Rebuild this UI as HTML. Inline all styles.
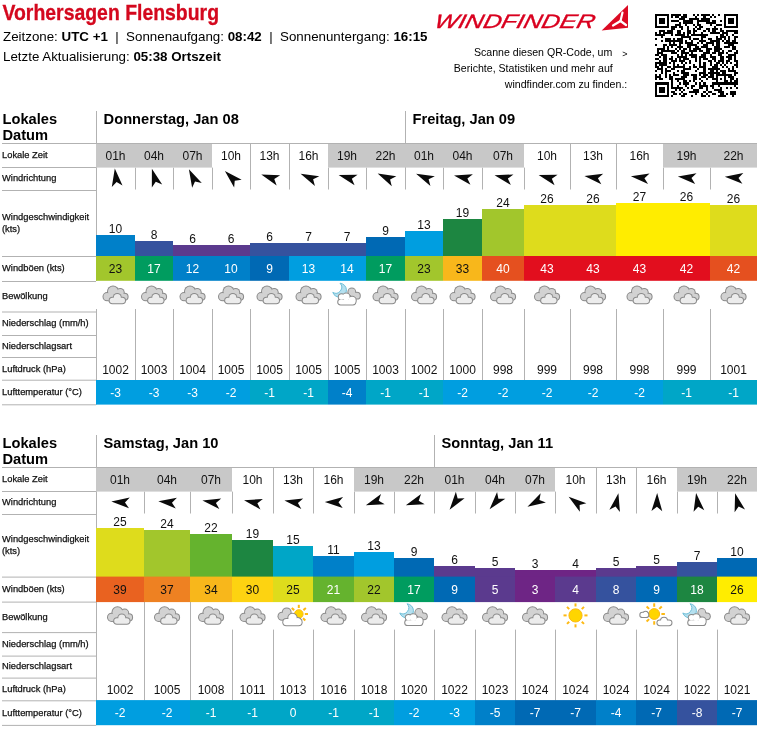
<!DOCTYPE html>
<html lang="de"><head><meta charset="utf-8"><title>Vorhersagen Flensburg</title>
<style>html,body{margin:0;padding:0;background:#fff}svg{display:block}text{white-space:pre}</style></head>
<body>
<svg width="758" height="730" viewBox="0 0 758 730" font-family='"Liberation Sans", Arial, sans-serif'>
<rect width="758" height="730" fill="#fff"/>
<text x="2.5" y="19.7" font-size="21.8" font-weight="bold" fill="#d4081e" stroke="#d4081e" stroke-width="0.3" textLength="216.5" lengthAdjust="spacingAndGlyphs">Vorhersagen Flensburg</text>
<text x="3" y="41" font-size="13.33" fill="#000">Zeitzone: <tspan font-weight="bold">UTC +1</tspan>  |  Sonnenaufgang: <tspan font-weight="bold">08:42</tspan>  |  Sonnenuntergang: <tspan font-weight="bold">16:15</tspan></text>
<text x="3" y="60.7" font-size="13.33" fill="#000">Letzte Aktualisierung: <tspan font-weight="bold">05:38 Ortszeit</tspan></text>
<text transform="translate(433.5,27.7) skewX(-14)" x="0" y="0" font-size="19.5" font-style="italic" fill="#d9001f" stroke="#d9001f" stroke-width="0.35" textLength="160" lengthAdjust="spacingAndGlyphs">WINDFINDER</text>
<path d="M628,5 L628,27.7 L601.7,30.5 Z" fill="#dc0a23"/>
<g fill="none" stroke="#fff" stroke-width="2.2" stroke-linecap="round"><path d="M620.5,21 L622.5,12.5"/><path d="M620.5,21 L626,25"/><path d="M620.5,21 L613,25.5"/></g>
<text x="612.3" y="55.8" font-size="10.6" text-anchor="end" font-weight="normal" fill="#000">Scanne diesen QR-Code, um</text>
<text x="622.3" y="56.6" font-size="9" text-anchor="start" font-weight="normal" fill="#000">&gt;</text>
<text x="612.8" y="71.7" font-size="10.6" text-anchor="end" font-weight="normal" fill="#000">Berichte, Statistiken und mehr auf</text>
<text x="627.3" y="88" font-size="10.6" text-anchor="end" font-weight="normal" fill="#000">windfinder.com zu finden.:</text>
<path d="M655,13.8h14.14v2.02h-14.14zM671.16,13.8h10.1v2.02h-10.1zM683.28,13.8h4.04v2.02h-4.04zM693.38,13.8h2.02v2.02h-2.02zM697.42,13.8h2.02v2.02h-2.02zM701.46,13.8h8.08v2.02h-8.08zM711.56,13.8h2.02v2.02h-2.02zM717.62,13.8h2.02v2.02h-2.02zM723.68,13.8h14.14v2.02h-14.14zM655,15.82h2.02v2.02h-2.02zM667.12,15.82h2.02v2.02h-2.02zM671.16,15.82h2.02v2.02h-2.02zM675.2,15.82h4.04v2.02h-4.04zM681.26,15.82h6.06v2.02h-6.06zM695.4,15.82h2.02v2.02h-2.02zM703.48,15.82h2.02v2.02h-2.02zM709.54,15.82h2.02v2.02h-2.02zM713.58,15.82h2.02v2.02h-2.02zM723.68,15.82h2.02v2.02h-2.02zM735.8,15.82h2.02v2.02h-2.02zM655,17.84h2.02v2.02h-2.02zM659.04,17.84h6.06v2.02h-6.06zM667.12,17.84h2.02v2.02h-2.02zM679.24,17.84h6.06v2.02h-6.06zM689.34,17.84h10.1v2.02h-10.1zM701.46,17.84h8.08v2.02h-8.08zM723.68,17.84h2.02v2.02h-2.02zM727.72,17.84h6.06v2.02h-6.06zM735.8,17.84h2.02v2.02h-2.02zM655,19.86h2.02v2.02h-2.02zM659.04,19.86h6.06v2.02h-6.06zM667.12,19.86h2.02v2.02h-2.02zM671.16,19.86h8.08v2.02h-8.08zM683.28,19.86h10.1v2.02h-10.1zM697.42,19.86h12.12v2.02h-12.12zM711.56,19.86h4.04v2.02h-4.04zM719.64,19.86h2.02v2.02h-2.02zM723.68,19.86h2.02v2.02h-2.02zM727.72,19.86h6.06v2.02h-6.06zM735.8,19.86h2.02v2.02h-2.02zM655,21.88h2.02v2.02h-2.02zM659.04,21.88h6.06v2.02h-6.06zM667.12,21.88h2.02v2.02h-2.02zM679.24,21.88h2.02v2.02h-2.02zM683.28,21.88h10.1v2.02h-10.1zM697.42,21.88h2.02v2.02h-2.02zM705.5,21.88h10.1v2.02h-10.1zM723.68,21.88h2.02v2.02h-2.02zM727.72,21.88h6.06v2.02h-6.06zM735.8,21.88h2.02v2.02h-2.02zM655,23.9h2.02v2.02h-2.02zM667.12,23.9h2.02v2.02h-2.02zM675.2,23.9h6.06v2.02h-6.06zM685.3,23.9h2.02v2.02h-2.02zM693.38,23.9h2.02v2.02h-2.02zM697.42,23.9h4.04v2.02h-4.04zM709.54,23.9h2.02v2.02h-2.02zM715.6,23.9h6.06v2.02h-6.06zM723.68,23.9h2.02v2.02h-2.02zM735.8,23.9h2.02v2.02h-2.02zM655,25.92h14.14v2.02h-14.14zM671.16,25.92h6.06v2.02h-6.06zM679.24,25.92h4.04v2.02h-4.04zM687.32,25.92h2.02v2.02h-2.02zM695.4,25.92h2.02v2.02h-2.02zM699.44,25.92h4.04v2.02h-4.04zM713.58,25.92h2.02v2.02h-2.02zM723.68,25.92h14.14v2.02h-14.14zM671.16,27.94h4.04v2.02h-4.04zM681.26,27.94h2.02v2.02h-2.02zM687.32,27.94h2.02v2.02h-2.02zM693.38,27.94h2.02v2.02h-2.02zM697.42,27.94h4.04v2.02h-4.04zM705.5,27.94h4.04v2.02h-4.04zM711.56,27.94h6.06v2.02h-6.06zM719.64,27.94h2.02v2.02h-2.02zM659.04,29.96h6.06v2.02h-6.06zM667.12,29.96h6.06v2.02h-6.06zM677.22,29.96h4.04v2.02h-4.04zM687.32,29.96h4.04v2.02h-4.04zM693.38,29.96h4.04v2.02h-4.04zM703.48,29.96h2.02v2.02h-2.02zM707.52,29.96h2.02v2.02h-2.02zM711.56,29.96h4.04v2.02h-4.04zM719.64,29.96h4.04v2.02h-4.04zM725.7,29.96h12.12v2.02h-12.12zM655,31.98h2.02v2.02h-2.02zM659.04,31.98h2.02v2.02h-2.02zM663.08,31.98h10.1v2.02h-10.1zM677.22,31.98h4.04v2.02h-4.04zM683.28,31.98h2.02v2.02h-2.02zM687.32,31.98h4.04v2.02h-4.04zM693.38,31.98h2.02v2.02h-2.02zM701.46,31.98h2.02v2.02h-2.02zM709.54,31.98h10.1v2.02h-10.1zM721.66,31.98h6.06v2.02h-6.06zM733.78,31.98h4.04v2.02h-4.04zM655,34h10.1v2.02h-10.1zM671.16,34h2.02v2.02h-2.02zM675.2,34h10.1v2.02h-10.1zM687.32,34h2.02v2.02h-2.02zM691.36,34h16.16v2.02h-16.16zM719.64,34h4.04v2.02h-4.04zM725.7,34h2.02v2.02h-2.02zM731.76,34h2.02v2.02h-2.02zM661.06,36.02h2.02v2.02h-2.02zM681.26,36.02h10.1v2.02h-10.1zM701.46,36.02h4.04v2.02h-4.04zM715.6,36.02h2.02v2.02h-2.02zM719.64,36.02h6.06v2.02h-6.06zM727.72,36.02h2.02v2.02h-2.02zM733.78,36.02h4.04v2.02h-4.04zM655,38.04h2.02v2.02h-2.02zM665.1,38.04h6.06v2.02h-6.06zM673.18,38.04h2.02v2.02h-2.02zM677.22,38.04h6.06v2.02h-6.06zM689.34,38.04h2.02v2.02h-2.02zM693.38,38.04h6.06v2.02h-6.06zM701.46,38.04h2.02v2.02h-2.02zM707.52,38.04h4.04v2.02h-4.04zM715.6,38.04h6.06v2.02h-6.06zM723.68,38.04h2.02v2.02h-2.02zM727.72,38.04h2.02v2.02h-2.02zM733.78,38.04h2.02v2.02h-2.02zM661.06,40.06h2.02v2.02h-2.02zM665.1,40.06h18.18v2.02h-18.18zM685.3,40.06h2.02v2.02h-2.02zM691.36,40.06h2.02v2.02h-2.02zM699.44,40.06h6.06v2.02h-6.06zM709.54,40.06h10.1v2.02h-10.1zM721.66,40.06h2.02v2.02h-2.02zM725.7,40.06h4.04v2.02h-4.04zM731.76,40.06h4.04v2.02h-4.04zM669.14,42.08h2.02v2.02h-2.02zM673.18,42.08h2.02v2.02h-2.02zM679.24,42.08h4.04v2.02h-4.04zM685.3,42.08h8.08v2.02h-8.08zM697.42,42.08h2.02v2.02h-2.02zM701.46,42.08h2.02v2.02h-2.02zM705.5,42.08h8.08v2.02h-8.08zM715.6,42.08h4.04v2.02h-4.04zM723.68,42.08h14.14v2.02h-14.14zM655,44.1h2.02v2.02h-2.02zM663.08,44.1h4.04v2.02h-4.04zM669.14,44.1h8.08v2.02h-8.08zM679.24,44.1h2.02v2.02h-2.02zM687.32,44.1h10.1v2.02h-10.1zM703.48,44.1h4.04v2.02h-4.04zM711.56,44.1h2.02v2.02h-2.02zM715.6,44.1h4.04v2.02h-4.04zM727.72,44.1h6.06v2.02h-6.06zM663.08,46.12h2.02v2.02h-2.02zM667.12,46.12h2.02v2.02h-2.02zM671.16,46.12h2.02v2.02h-2.02zM677.22,46.12h6.06v2.02h-6.06zM687.32,46.12h4.04v2.02h-4.04zM695.4,46.12h4.04v2.02h-4.04zM701.46,46.12h6.06v2.02h-6.06zM713.58,46.12h6.06v2.02h-6.06zM723.68,46.12h6.06v2.02h-6.06zM731.76,46.12h4.04v2.02h-4.04zM657.02,48.14h8.08v2.02h-8.08zM667.12,48.14h2.02v2.02h-2.02zM675.2,48.14h2.02v2.02h-2.02zM679.24,48.14h2.02v2.02h-2.02zM683.28,48.14h4.04v2.02h-4.04zM689.34,48.14h2.02v2.02h-2.02zM693.38,48.14h8.08v2.02h-8.08zM705.5,48.14h6.06v2.02h-6.06zM713.58,48.14h8.08v2.02h-8.08zM731.76,48.14h4.04v2.02h-4.04zM657.02,50.16h2.02v2.02h-2.02zM661.06,50.16h14.14v2.02h-14.14zM677.22,50.16h2.02v2.02h-2.02zM681.26,50.16h4.04v2.02h-4.04zM689.34,50.16h8.08v2.02h-8.08zM699.44,50.16h4.04v2.02h-4.04zM705.5,50.16h4.04v2.02h-4.04zM713.58,50.16h6.06v2.02h-6.06zM721.66,50.16h2.02v2.02h-2.02zM727.72,50.16h4.04v2.02h-4.04zM735.8,50.16h2.02v2.02h-2.02zM657.02,52.18h6.06v2.02h-6.06zM671.16,52.18h6.06v2.02h-6.06zM681.26,52.18h8.08v2.02h-8.08zM691.36,52.18h2.02v2.02h-2.02zM703.48,52.18h6.06v2.02h-6.06zM711.56,52.18h4.04v2.02h-4.04zM717.62,52.18h6.06v2.02h-6.06zM725.7,52.18h2.02v2.02h-2.02zM733.78,52.18h4.04v2.02h-4.04zM655,54.2h4.04v2.02h-4.04zM661.06,54.2h6.06v2.02h-6.06zM677.22,54.2h2.02v2.02h-2.02zM681.26,54.2h2.02v2.02h-2.02zM685.3,54.2h2.02v2.02h-2.02zM689.34,54.2h8.08v2.02h-8.08zM701.46,54.2h4.04v2.02h-4.04zM709.54,54.2h2.02v2.02h-2.02zM717.62,54.2h4.04v2.02h-4.04zM727.72,54.2h8.08v2.02h-8.08zM659.04,56.22h2.02v2.02h-2.02zM663.08,56.22h4.04v2.02h-4.04zM671.16,56.22h2.02v2.02h-2.02zM677.22,56.22h10.1v2.02h-10.1zM691.36,56.22h6.06v2.02h-6.06zM699.44,56.22h6.06v2.02h-6.06zM709.54,56.22h6.06v2.02h-6.06zM719.64,56.22h4.04v2.02h-4.04zM725.7,56.22h6.06v2.02h-6.06zM733.78,56.22h2.02v2.02h-2.02zM655,58.24h4.04v2.02h-4.04zM663.08,58.24h4.04v2.02h-4.04zM669.14,58.24h4.04v2.02h-4.04zM675.2,58.24h2.02v2.02h-2.02zM679.24,58.24h2.02v2.02h-2.02zM683.28,58.24h6.06v2.02h-6.06zM695.4,58.24h2.02v2.02h-2.02zM699.44,58.24h2.02v2.02h-2.02zM703.48,58.24h4.04v2.02h-4.04zM711.56,58.24h4.04v2.02h-4.04zM719.64,58.24h4.04v2.02h-4.04zM727.72,58.24h4.04v2.02h-4.04zM733.78,58.24h2.02v2.02h-2.02zM659.04,60.26h2.02v2.02h-2.02zM663.08,60.26h4.04v2.02h-4.04zM671.16,60.26h6.06v2.02h-6.06zM679.24,60.26h6.06v2.02h-6.06zM689.34,60.26h2.02v2.02h-2.02zM695.4,60.26h2.02v2.02h-2.02zM699.44,60.26h2.02v2.02h-2.02zM707.52,60.26h4.04v2.02h-4.04zM713.58,60.26h2.02v2.02h-2.02zM717.62,60.26h6.06v2.02h-6.06zM725.7,60.26h4.04v2.02h-4.04zM733.78,60.26h4.04v2.02h-4.04zM655,62.28h12.12v2.02h-12.12zM669.14,62.28h2.02v2.02h-2.02zM673.18,62.28h2.02v2.02h-2.02zM681.26,62.28h2.02v2.02h-2.02zM685.3,62.28h2.02v2.02h-2.02zM689.34,62.28h2.02v2.02h-2.02zM699.44,62.28h2.02v2.02h-2.02zM703.48,62.28h2.02v2.02h-2.02zM709.54,62.28h2.02v2.02h-2.02zM715.6,62.28h4.04v2.02h-4.04zM721.66,62.28h2.02v2.02h-2.02zM725.7,62.28h2.02v2.02h-2.02zM729.74,62.28h2.02v2.02h-2.02zM735.8,62.28h2.02v2.02h-2.02zM655,64.3h2.02v2.02h-2.02zM659.04,64.3h8.08v2.02h-8.08zM673.18,64.3h2.02v2.02h-2.02zM677.22,64.3h2.02v2.02h-2.02zM683.28,64.3h2.02v2.02h-2.02zM693.38,64.3h2.02v2.02h-2.02zM699.44,64.3h2.02v2.02h-2.02zM703.48,64.3h2.02v2.02h-2.02zM709.54,64.3h2.02v2.02h-2.02zM713.58,64.3h4.04v2.02h-4.04zM719.64,64.3h2.02v2.02h-2.02zM723.68,64.3h2.02v2.02h-2.02zM733.78,64.3h4.04v2.02h-4.04zM655,66.32h4.04v2.02h-4.04zM661.06,66.32h2.02v2.02h-2.02zM667.12,66.32h4.04v2.02h-4.04zM673.18,66.32h12.12v2.02h-12.12zM689.34,66.32h2.02v2.02h-2.02zM693.38,66.32h4.04v2.02h-4.04zM699.44,66.32h6.06v2.02h-6.06zM711.56,66.32h6.06v2.02h-6.06zM721.66,66.32h2.02v2.02h-2.02zM725.7,66.32h2.02v2.02h-2.02zM731.76,66.32h2.02v2.02h-2.02zM735.8,66.32h2.02v2.02h-2.02zM657.02,68.34h6.06v2.02h-6.06zM665.1,68.34h2.02v2.02h-2.02zM671.16,68.34h4.04v2.02h-4.04zM683.28,68.34h8.08v2.02h-8.08zM697.42,68.34h2.02v2.02h-2.02zM703.48,68.34h2.02v2.02h-2.02zM707.52,68.34h12.12v2.02h-12.12zM727.72,68.34h2.02v2.02h-2.02zM731.76,68.34h2.02v2.02h-2.02zM655,70.36h2.02v2.02h-2.02zM661.06,70.36h2.02v2.02h-2.02zM665.1,70.36h6.06v2.02h-6.06zM677.22,70.36h2.02v2.02h-2.02zM681.26,70.36h4.04v2.02h-4.04zM695.4,70.36h2.02v2.02h-2.02zM703.48,70.36h2.02v2.02h-2.02zM709.54,70.36h4.04v2.02h-4.04zM715.6,70.36h2.02v2.02h-2.02zM719.64,70.36h6.06v2.02h-6.06zM727.72,70.36h8.08v2.02h-8.08zM661.06,72.38h2.02v2.02h-2.02zM665.1,72.38h2.02v2.02h-2.02zM673.18,72.38h2.02v2.02h-2.02zM681.26,72.38h8.08v2.02h-8.08zM699.44,72.38h6.06v2.02h-6.06zM707.52,72.38h12.12v2.02h-12.12zM721.66,72.38h4.04v2.02h-4.04zM733.78,72.38h4.04v2.02h-4.04zM655,74.4h2.02v2.02h-2.02zM659.04,74.4h2.02v2.02h-2.02zM665.1,74.4h2.02v2.02h-2.02zM669.14,74.4h2.02v2.02h-2.02zM673.18,74.4h6.06v2.02h-6.06zM683.28,74.4h6.06v2.02h-6.06zM691.36,74.4h6.06v2.02h-6.06zM699.44,74.4h2.02v2.02h-2.02zM703.48,74.4h4.04v2.02h-4.04zM709.54,74.4h4.04v2.02h-4.04zM715.6,74.4h16.16v2.02h-16.16zM733.78,74.4h2.02v2.02h-2.02zM655,76.42h6.06v2.02h-6.06zM665.1,76.42h2.02v2.02h-2.02zM669.14,76.42h4.04v2.02h-4.04zM681.26,76.42h6.06v2.02h-6.06zM693.38,76.42h4.04v2.02h-4.04zM701.46,76.42h4.04v2.02h-4.04zM707.52,76.42h6.06v2.02h-6.06zM715.6,76.42h2.02v2.02h-2.02zM723.68,76.42h2.02v2.02h-2.02zM727.72,76.42h6.06v2.02h-6.06zM655,78.44h2.02v2.02h-2.02zM659.04,78.44h4.04v2.02h-4.04zM669.14,78.44h4.04v2.02h-4.04zM675.2,78.44h10.1v2.02h-10.1zM693.38,78.44h4.04v2.02h-4.04zM699.44,78.44h2.02v2.02h-2.02zM705.5,78.44h2.02v2.02h-2.02zM711.56,78.44h6.06v2.02h-6.06zM719.64,78.44h2.02v2.02h-2.02zM723.68,78.44h2.02v2.02h-2.02zM729.74,78.44h4.04v2.02h-4.04zM735.8,78.44h2.02v2.02h-2.02zM671.16,80.46h2.02v2.02h-2.02zM677.22,80.46h2.02v2.02h-2.02zM683.28,80.46h4.04v2.02h-4.04zM689.34,80.46h2.02v2.02h-2.02zM693.38,80.46h2.02v2.02h-2.02zM701.46,80.46h2.02v2.02h-2.02zM715.6,80.46h2.02v2.02h-2.02zM723.68,80.46h4.04v2.02h-4.04zM729.74,80.46h2.02v2.02h-2.02zM733.78,80.46h4.04v2.02h-4.04zM655,82.48h14.14v2.02h-14.14zM671.16,82.48h2.02v2.02h-2.02zM679.24,82.48h2.02v2.02h-2.02zM683.28,82.48h6.06v2.02h-6.06zM695.4,82.48h2.02v2.02h-2.02zM699.44,82.48h2.02v2.02h-2.02zM703.48,82.48h2.02v2.02h-2.02zM711.56,82.48h26.26v2.02h-26.26zM655,84.5h2.02v2.02h-2.02zM667.12,84.5h2.02v2.02h-2.02zM671.16,84.5h2.02v2.02h-2.02zM677.22,84.5h2.02v2.02h-2.02zM685.3,84.5h2.02v2.02h-2.02zM691.36,84.5h4.04v2.02h-4.04zM699.44,84.5h8.08v2.02h-8.08zM709.54,84.5h4.04v2.02h-4.04zM717.62,84.5h2.02v2.02h-2.02zM733.78,84.5h2.02v2.02h-2.02zM655,86.52h2.02v2.02h-2.02zM659.04,86.52h6.06v2.02h-6.06zM667.12,86.52h2.02v2.02h-2.02zM671.16,86.52h12.12v2.02h-12.12zM687.32,86.52h2.02v2.02h-2.02zM691.36,86.52h2.02v2.02h-2.02zM699.44,86.52h4.04v2.02h-4.04zM705.5,86.52h2.02v2.02h-2.02zM711.56,86.52h2.02v2.02h-2.02zM719.64,86.52h2.02v2.02h-2.02zM725.7,86.52h2.02v2.02h-2.02zM729.74,86.52h2.02v2.02h-2.02zM735.8,86.52h2.02v2.02h-2.02zM655,88.54h2.02v2.02h-2.02zM659.04,88.54h6.06v2.02h-6.06zM667.12,88.54h2.02v2.02h-2.02zM675.2,88.54h2.02v2.02h-2.02zM679.24,88.54h2.02v2.02h-2.02zM683.28,88.54h2.02v2.02h-2.02zM693.38,88.54h6.06v2.02h-6.06zM705.5,88.54h2.02v2.02h-2.02zM713.58,88.54h8.08v2.02h-8.08zM655,90.56h2.02v2.02h-2.02zM659.04,90.56h6.06v2.02h-6.06zM667.12,90.56h2.02v2.02h-2.02zM671.16,90.56h4.04v2.02h-4.04zM681.26,90.56h2.02v2.02h-2.02zM689.34,90.56h10.1v2.02h-10.1zM703.48,90.56h2.02v2.02h-2.02zM707.52,90.56h4.04v2.02h-4.04zM717.62,90.56h6.06v2.02h-6.06zM729.74,90.56h6.06v2.02h-6.06zM655,92.58h2.02v2.02h-2.02zM667.12,92.58h2.02v2.02h-2.02zM673.18,92.58h4.04v2.02h-4.04zM679.24,92.58h2.02v2.02h-2.02zM683.28,92.58h4.04v2.02h-4.04zM695.4,92.58h2.02v2.02h-2.02zM701.46,92.58h2.02v2.02h-2.02zM705.5,92.58h2.02v2.02h-2.02zM711.56,92.58h4.04v2.02h-4.04zM719.64,92.58h4.04v2.02h-4.04zM725.7,92.58h2.02v2.02h-2.02zM729.74,92.58h6.06v2.02h-6.06zM655,94.6h14.14v2.02h-14.14zM671.16,94.6h2.02v2.02h-2.02zM681.26,94.6h4.04v2.02h-4.04zM691.36,94.6h2.02v2.02h-2.02zM701.46,94.6h4.04v2.02h-4.04zM707.52,94.6h2.02v2.02h-2.02zM717.62,94.6h8.08v2.02h-8.08zM731.76,94.6h2.02v2.02h-2.02z" fill="#000" shape-rendering="crispEdges"/>
<rect x="2" y="143" width="755" height="1" fill="#b2b2b2"/>
<rect x="2" y="167" width="94" height="1" fill="#b2b2b2"/>
<rect x="2" y="190" width="94" height="1" fill="#b2b2b2"/>
<rect x="2" y="256" width="94" height="1" fill="#b2b2b2"/>
<rect x="2" y="281" width="94" height="1" fill="#b2b2b2"/>
<rect x="2" y="311.5" width="94" height="1" fill="#b2b2b2"/>
<rect x="2" y="335" width="94" height="1" fill="#b2b2b2"/>
<rect x="2" y="357" width="94" height="1" fill="#b2b2b2"/>
<rect x="2" y="379.7" width="94" height="1" fill="#b2b2b2"/>
<rect x="2" y="404.3" width="94" height="1" fill="#b2b2b2"/>
<rect x="96" y="111" width="1" height="170" fill="#b2b2b2"/>
<rect x="96" y="309" width="1" height="95.5" fill="#b2b2b2"/>
<rect x="405" y="111" width="1" height="78.5" fill="#b2b2b2"/>
<rect x="135" y="167.6" width="1" height="21.9" fill="#b2b2b2"/>
<rect x="173" y="167.6" width="1" height="21.9" fill="#b2b2b2"/>
<rect x="212" y="167.6" width="1" height="21.9" fill="#b2b2b2"/>
<rect x="250" y="144" width="1" height="45.5" fill="#b2b2b2"/>
<rect x="289" y="144" width="1" height="45.5" fill="#b2b2b2"/>
<rect x="328" y="167.6" width="1" height="21.9" fill="#b2b2b2"/>
<rect x="366" y="167.6" width="1" height="21.9" fill="#b2b2b2"/>
<rect x="443" y="167.6" width="1" height="21.9" fill="#b2b2b2"/>
<rect x="482" y="167.6" width="1" height="21.9" fill="#b2b2b2"/>
<rect x="524" y="167.6" width="1" height="21.9" fill="#b2b2b2"/>
<rect x="570" y="144" width="1" height="45.5" fill="#b2b2b2"/>
<rect x="616" y="144" width="1" height="45.5" fill="#b2b2b2"/>
<rect x="663" y="167.6" width="1" height="21.9" fill="#b2b2b2"/>
<rect x="710" y="167.6" width="1" height="21.9" fill="#b2b2b2"/>
<rect x="135" y="309" width="1" height="71" fill="#b2b2b2"/>
<rect x="173" y="309" width="1" height="71" fill="#b2b2b2"/>
<rect x="212" y="309" width="1" height="71" fill="#b2b2b2"/>
<rect x="250" y="309" width="1" height="71" fill="#b2b2b2"/>
<rect x="289" y="309" width="1" height="71" fill="#b2b2b2"/>
<rect x="328" y="309" width="1" height="71" fill="#b2b2b2"/>
<rect x="366" y="309" width="1" height="71" fill="#b2b2b2"/>
<rect x="405" y="309" width="1" height="71" fill="#b2b2b2"/>
<rect x="443" y="309" width="1" height="71" fill="#b2b2b2"/>
<rect x="482" y="309" width="1" height="71" fill="#b2b2b2"/>
<rect x="524" y="309" width="1" height="71" fill="#b2b2b2"/>
<rect x="570" y="309" width="1" height="71" fill="#b2b2b2"/>
<rect x="616" y="309" width="1" height="71" fill="#b2b2b2"/>
<rect x="663" y="309" width="1" height="71" fill="#b2b2b2"/>
<rect x="710" y="309" width="1" height="71" fill="#b2b2b2"/>
<rect x="96" y="144" width="116" height="23.6" fill="#c8c8c8"/>
<rect x="328" y="144" width="196" height="23.6" fill="#c8c8c8"/>
<rect x="663" y="144" width="94" height="23.6" fill="#c8c8c8"/>
<rect x="96" y="235" width="39" height="21.5" fill="#0080c9"/>
<rect x="135" y="241" width="38" height="15.5" fill="#35529e"/>
<rect x="173" y="245" width="77" height="11.5" fill="#5b3a8e"/>
<rect x="250" y="243" width="116" height="13.5" fill="#35529e"/>
<rect x="366" y="237" width="39" height="19.5" fill="#0069b4"/>
<rect x="405" y="231" width="38" height="25.5" fill="#009ee0"/>
<rect x="443" y="219" width="39" height="37.5" fill="#1d8641"/>
<rect x="482" y="209" width="42" height="47.5" fill="#a2c62c"/>
<rect x="524" y="205" width="92" height="51.5" fill="#dedc1c"/>
<rect x="616" y="203" width="94" height="53.5" fill="#ffed00"/>
<rect x="710" y="205" width="47" height="51.5" fill="#dedc1c"/>
<rect x="96" y="256" width="39" height="24.8" fill="#a2c62c"/>
<rect x="135" y="256" width="38" height="24.8" fill="#009c5f"/>
<rect x="173" y="256" width="77" height="24.8" fill="#0080c9"/>
<rect x="250" y="256" width="39" height="24.8" fill="#0069b4"/>
<rect x="289" y="256" width="77" height="24.8" fill="#009ee0"/>
<rect x="366" y="256" width="39" height="24.8" fill="#009c5f"/>
<rect x="405" y="256" width="38" height="24.8" fill="#a2c62c"/>
<rect x="443" y="256" width="39" height="24.8" fill="#f8b71b"/>
<rect x="482" y="256" width="42" height="24.8" fill="#e5501f"/>
<rect x="524" y="256" width="186" height="24.8" fill="#e20e1e"/>
<rect x="710" y="256" width="47" height="24.8" fill="#e5501f"/>
<rect x="96" y="380" width="154" height="24.6" fill="#009ee0"/>
<rect x="250" y="380" width="78" height="24.6" fill="#00a6c7"/>
<rect x="328" y="380" width="38" height="24.6" fill="#0080c9"/>
<rect x="366" y="380" width="77" height="24.6" fill="#00a6c7"/>
<rect x="443" y="380" width="220" height="24.6" fill="#009ee0"/>
<rect x="663" y="380" width="94" height="24.6" fill="#00a6c7"/>
<text x="2.5" y="124" font-size="14.67" text-anchor="start" font-weight="bold" fill="#000">Lokales</text>
<text x="2.5" y="140" font-size="14.67" text-anchor="start" font-weight="bold" fill="#000">Datum</text>
<text x="103.6" y="124" font-size="14.67" text-anchor="start" font-weight="bold" fill="#000">Donnerstag, Jan 08</text>
<text x="412.5" y="124" font-size="14.67" text-anchor="start" font-weight="bold" fill="#000">Freitag, Jan 09</text>
<text x="2" y="158" font-size="9.33" text-anchor="start" font-weight="normal" fill="#111" stroke="#111" stroke-width="0.25">Lokale Zeit</text>
<text x="2" y="180.5" font-size="9.33" text-anchor="start" font-weight="normal" fill="#111" stroke="#111" stroke-width="0.25">Windrichtung</text>
<text x="2" y="220" font-size="9.33" text-anchor="start" font-weight="normal" fill="#111" stroke="#111" stroke-width="0.25">Windgeschwindigkeit</text>
<text x="2" y="231.5" font-size="9.33" text-anchor="start" font-weight="normal" fill="#111" stroke="#111" stroke-width="0.25">(kts)</text>
<text x="2" y="271" font-size="9.33" text-anchor="start" font-weight="normal" fill="#111" stroke="#111" stroke-width="0.25">Windböen (kts)</text>
<text x="2" y="299" font-size="9.33" text-anchor="start" font-weight="normal" fill="#111" stroke="#111" stroke-width="0.25">Bewölkung</text>
<text x="2" y="326" font-size="9.33" text-anchor="start" font-weight="normal" fill="#111" stroke="#111" stroke-width="0.25">Niederschlag (mm/h)</text>
<text x="2" y="348.5" font-size="9.33" text-anchor="start" font-weight="normal" fill="#111" stroke="#111" stroke-width="0.25">Niederschlagsart</text>
<text x="2" y="371.5" font-size="9.33" text-anchor="start" font-weight="normal" fill="#111" stroke="#111" stroke-width="0.25">Luftdruck (hPa)</text>
<text x="2" y="395" font-size="9.33" text-anchor="start" font-weight="normal" fill="#111" stroke="#111" stroke-width="0.25">Lufttemperatur (°C)</text>
<text x="115.5" y="160" font-size="12" text-anchor="middle" font-weight="normal" fill="#111">01h</text>
<path d="M0,-9.2 L5.4,8.9 L0,4.5 L-5.4,8.9 Z" fill="#0a0a0a" transform="translate(116,177.5) rotate(-7.5)"/>
<text x="115.5" y="233.1" font-size="12" text-anchor="middle" font-weight="normal" fill="#111">10</text>
<text x="115.5" y="272.7" font-size="12" text-anchor="middle" font-weight="normal" fill="#111">23</text>
<g transform="translate(100.00,282)"><circle cx="7.1" cy="14.7" r="4.6" fill="#8a8a8a"/><circle cx="13" cy="9.6" r="6" fill="#8a8a8a"/><circle cx="20.2" cy="10.5" r="4.5" fill="#8a8a8a"/><circle cx="24.5" cy="14.8" r="4.1" fill="#8a8a8a"/><circle cx="11" cy="16" r="4.3" fill="#8a8a8a"/><circle cx="20" cy="16" r="4.3" fill="#8a8a8a"/><circle cx="7.1" cy="14.7" r="3.6" fill="#d2d2d2"/><circle cx="13" cy="9.6" r="5" fill="#d2d2d2"/><circle cx="20.2" cy="10.5" r="3.5" fill="#d2d2d2"/><circle cx="24.5" cy="14.8" r="3.1" fill="#d2d2d2"/><circle cx="11" cy="16" r="3.3" fill="#d2d2d2"/><circle cx="20" cy="16" r="3.3" fill="#d2d2d2"/><circle cx="17.3" cy="15.4" r="4.5" fill="#8a8a8a"/><rect x="8.7" y="14.7" width="17.3" height="7.5" rx="3.75" fill="#8a8a8a"/><circle cx="17.3" cy="15.4" r="3.5" fill="#ececec"/><rect x="9.7" y="15.7" width="15.3" height="5.5" rx="2.75" fill="#ececec"/></g>
<text x="115.5" y="373.5" font-size="12" text-anchor="middle" font-weight="normal" fill="#111">1002</text>
<text x="115.5" y="396.5" font-size="12" text-anchor="middle" font-weight="normal" fill="#fff">-3</text>
<text x="154" y="160" font-size="12" text-anchor="middle" font-weight="normal" fill="#111">04h</text>
<path d="M0,-9.2 L5.4,8.9 L0,4.5 L-5.4,8.9 Z" fill="#0a0a0a" transform="translate(154.5,177.5) rotate(-16.5)"/>
<text x="154" y="239.1" font-size="12" text-anchor="middle" font-weight="normal" fill="#111">8</text>
<text x="154" y="272.7" font-size="12" text-anchor="middle" font-weight="normal" fill="#fff">17</text>
<g transform="translate(138.50,282)"><circle cx="7.1" cy="14.7" r="4.6" fill="#8a8a8a"/><circle cx="13" cy="9.6" r="6" fill="#8a8a8a"/><circle cx="20.2" cy="10.5" r="4.5" fill="#8a8a8a"/><circle cx="24.5" cy="14.8" r="4.1" fill="#8a8a8a"/><circle cx="11" cy="16" r="4.3" fill="#8a8a8a"/><circle cx="20" cy="16" r="4.3" fill="#8a8a8a"/><circle cx="7.1" cy="14.7" r="3.6" fill="#d2d2d2"/><circle cx="13" cy="9.6" r="5" fill="#d2d2d2"/><circle cx="20.2" cy="10.5" r="3.5" fill="#d2d2d2"/><circle cx="24.5" cy="14.8" r="3.1" fill="#d2d2d2"/><circle cx="11" cy="16" r="3.3" fill="#d2d2d2"/><circle cx="20" cy="16" r="3.3" fill="#d2d2d2"/><circle cx="17.3" cy="15.4" r="4.5" fill="#8a8a8a"/><rect x="8.7" y="14.7" width="17.3" height="7.5" rx="3.75" fill="#8a8a8a"/><circle cx="17.3" cy="15.4" r="3.5" fill="#ececec"/><rect x="9.7" y="15.7" width="15.3" height="5.5" rx="2.75" fill="#ececec"/></g>
<text x="154" y="373.5" font-size="12" text-anchor="middle" font-weight="normal" fill="#111">1003</text>
<text x="154" y="396.5" font-size="12" text-anchor="middle" font-weight="normal" fill="#fff">-3</text>
<text x="192.5" y="160" font-size="12" text-anchor="middle" font-weight="normal" fill="#111">07h</text>
<path d="M0,-9.2 L5.4,8.9 L0,4.5 L-5.4,8.9 Z" fill="#0a0a0a" transform="translate(193,177.5) rotate(-26.5)"/>
<text x="192.5" y="243.1" font-size="12" text-anchor="middle" font-weight="normal" fill="#111">6</text>
<text x="192.5" y="272.7" font-size="12" text-anchor="middle" font-weight="normal" fill="#fff">12</text>
<g transform="translate(177.00,282)"><circle cx="7.1" cy="14.7" r="4.6" fill="#8a8a8a"/><circle cx="13" cy="9.6" r="6" fill="#8a8a8a"/><circle cx="20.2" cy="10.5" r="4.5" fill="#8a8a8a"/><circle cx="24.5" cy="14.8" r="4.1" fill="#8a8a8a"/><circle cx="11" cy="16" r="4.3" fill="#8a8a8a"/><circle cx="20" cy="16" r="4.3" fill="#8a8a8a"/><circle cx="7.1" cy="14.7" r="3.6" fill="#d2d2d2"/><circle cx="13" cy="9.6" r="5" fill="#d2d2d2"/><circle cx="20.2" cy="10.5" r="3.5" fill="#d2d2d2"/><circle cx="24.5" cy="14.8" r="3.1" fill="#d2d2d2"/><circle cx="11" cy="16" r="3.3" fill="#d2d2d2"/><circle cx="20" cy="16" r="3.3" fill="#d2d2d2"/><circle cx="17.3" cy="15.4" r="4.5" fill="#8a8a8a"/><rect x="8.7" y="14.7" width="17.3" height="7.5" rx="3.75" fill="#8a8a8a"/><circle cx="17.3" cy="15.4" r="3.5" fill="#ececec"/><rect x="9.7" y="15.7" width="15.3" height="5.5" rx="2.75" fill="#ececec"/></g>
<text x="192.5" y="373.5" font-size="12" text-anchor="middle" font-weight="normal" fill="#111">1004</text>
<text x="192.5" y="396.5" font-size="12" text-anchor="middle" font-weight="normal" fill="#fff">-3</text>
<text x="231" y="160" font-size="12" text-anchor="middle" font-weight="normal" fill="#111">10h</text>
<path d="M0,-9.2 L5.4,8.9 L0,4.5 L-5.4,8.9 Z" fill="#0a0a0a" transform="translate(231.5,177.5) rotate(-46)"/>
<text x="231" y="243.1" font-size="12" text-anchor="middle" font-weight="normal" fill="#111">6</text>
<text x="231" y="272.7" font-size="12" text-anchor="middle" font-weight="normal" fill="#fff">10</text>
<g transform="translate(215.50,282)"><circle cx="7.1" cy="14.7" r="4.6" fill="#8a8a8a"/><circle cx="13" cy="9.6" r="6" fill="#8a8a8a"/><circle cx="20.2" cy="10.5" r="4.5" fill="#8a8a8a"/><circle cx="24.5" cy="14.8" r="4.1" fill="#8a8a8a"/><circle cx="11" cy="16" r="4.3" fill="#8a8a8a"/><circle cx="20" cy="16" r="4.3" fill="#8a8a8a"/><circle cx="7.1" cy="14.7" r="3.6" fill="#d2d2d2"/><circle cx="13" cy="9.6" r="5" fill="#d2d2d2"/><circle cx="20.2" cy="10.5" r="3.5" fill="#d2d2d2"/><circle cx="24.5" cy="14.8" r="3.1" fill="#d2d2d2"/><circle cx="11" cy="16" r="3.3" fill="#d2d2d2"/><circle cx="20" cy="16" r="3.3" fill="#d2d2d2"/><circle cx="17.3" cy="15.4" r="4.5" fill="#8a8a8a"/><rect x="8.7" y="14.7" width="17.3" height="7.5" rx="3.75" fill="#8a8a8a"/><circle cx="17.3" cy="15.4" r="3.5" fill="#ececec"/><rect x="9.7" y="15.7" width="15.3" height="5.5" rx="2.75" fill="#ececec"/></g>
<text x="231" y="373.5" font-size="12" text-anchor="middle" font-weight="normal" fill="#111">1005</text>
<text x="231" y="396.5" font-size="12" text-anchor="middle" font-weight="normal" fill="#fff">-2</text>
<text x="269.5" y="160" font-size="12" text-anchor="middle" font-weight="normal" fill="#111">13h</text>
<path d="M0,-9.2 L5.4,8.9 L0,4.5 L-5.4,8.9 Z" fill="#0a0a0a" transform="translate(270,177.5) rotate(-71)"/>
<text x="269.5" y="241.1" font-size="12" text-anchor="middle" font-weight="normal" fill="#111">6</text>
<text x="269.5" y="272.7" font-size="12" text-anchor="middle" font-weight="normal" fill="#fff">9</text>
<g transform="translate(254.00,282)"><circle cx="7.1" cy="14.7" r="4.6" fill="#8a8a8a"/><circle cx="13" cy="9.6" r="6" fill="#8a8a8a"/><circle cx="20.2" cy="10.5" r="4.5" fill="#8a8a8a"/><circle cx="24.5" cy="14.8" r="4.1" fill="#8a8a8a"/><circle cx="11" cy="16" r="4.3" fill="#8a8a8a"/><circle cx="20" cy="16" r="4.3" fill="#8a8a8a"/><circle cx="7.1" cy="14.7" r="3.6" fill="#d2d2d2"/><circle cx="13" cy="9.6" r="5" fill="#d2d2d2"/><circle cx="20.2" cy="10.5" r="3.5" fill="#d2d2d2"/><circle cx="24.5" cy="14.8" r="3.1" fill="#d2d2d2"/><circle cx="11" cy="16" r="3.3" fill="#d2d2d2"/><circle cx="20" cy="16" r="3.3" fill="#d2d2d2"/><circle cx="17.3" cy="15.4" r="4.5" fill="#8a8a8a"/><rect x="8.7" y="14.7" width="17.3" height="7.5" rx="3.75" fill="#8a8a8a"/><circle cx="17.3" cy="15.4" r="3.5" fill="#ececec"/><rect x="9.7" y="15.7" width="15.3" height="5.5" rx="2.75" fill="#ececec"/></g>
<text x="269.5" y="373.5" font-size="12" text-anchor="middle" font-weight="normal" fill="#111">1005</text>
<text x="269.5" y="396.5" font-size="12" text-anchor="middle" font-weight="normal" fill="#fff">-1</text>
<text x="308.5" y="160" font-size="12" text-anchor="middle" font-weight="normal" fill="#111">16h</text>
<path d="M0,-9.2 L5.4,8.9 L0,4.5 L-5.4,8.9 Z" fill="#0a0a0a" transform="translate(309,177.5) rotate(-66)"/>
<text x="308.5" y="241.1" font-size="12" text-anchor="middle" font-weight="normal" fill="#111">7</text>
<text x="308.5" y="272.7" font-size="12" text-anchor="middle" font-weight="normal" fill="#fff">13</text>
<g transform="translate(293.00,282)"><circle cx="7.1" cy="14.7" r="4.6" fill="#8a8a8a"/><circle cx="13" cy="9.6" r="6" fill="#8a8a8a"/><circle cx="20.2" cy="10.5" r="4.5" fill="#8a8a8a"/><circle cx="24.5" cy="14.8" r="4.1" fill="#8a8a8a"/><circle cx="11" cy="16" r="4.3" fill="#8a8a8a"/><circle cx="20" cy="16" r="4.3" fill="#8a8a8a"/><circle cx="7.1" cy="14.7" r="3.6" fill="#d2d2d2"/><circle cx="13" cy="9.6" r="5" fill="#d2d2d2"/><circle cx="20.2" cy="10.5" r="3.5" fill="#d2d2d2"/><circle cx="24.5" cy="14.8" r="3.1" fill="#d2d2d2"/><circle cx="11" cy="16" r="3.3" fill="#d2d2d2"/><circle cx="20" cy="16" r="3.3" fill="#d2d2d2"/><circle cx="17.3" cy="15.4" r="4.5" fill="#8a8a8a"/><rect x="8.7" y="14.7" width="17.3" height="7.5" rx="3.75" fill="#8a8a8a"/><circle cx="17.3" cy="15.4" r="3.5" fill="#ececec"/><rect x="9.7" y="15.7" width="15.3" height="5.5" rx="2.75" fill="#ececec"/></g>
<text x="308.5" y="373.5" font-size="12" text-anchor="middle" font-weight="normal" fill="#111">1005</text>
<text x="308.5" y="396.5" font-size="12" text-anchor="middle" font-weight="normal" fill="#fff">-1</text>
<text x="347" y="160" font-size="12" text-anchor="middle" font-weight="normal" fill="#111">19h</text>
<path d="M0,-9.2 L5.4,8.9 L0,4.5 L-5.4,8.9 Z" fill="#0a0a0a" transform="translate(347.5,177.5) rotate(-74)"/>
<text x="347" y="241.1" font-size="12" text-anchor="middle" font-weight="normal" fill="#111">7</text>
<text x="347" y="272.7" font-size="12" text-anchor="middle" font-weight="normal" fill="#fff">14</text>
<g transform="translate(330.30,280)"><path d="M9.7,3.2 A7,7 0 1 1 2.5,12.4 A5.9,5.9 0 0 0 9.7,3.2 Z" fill="#b5e0ef" stroke="#6fbfd8" stroke-width="1" stroke-linejoin="round"/><circle cx="21.5" cy="11.9" r="4.4" fill="#8a8a8a"/><circle cx="26.6" cy="15.7" r="3.9" fill="#8a8a8a"/><circle cx="23.5" cy="15" r="3.8" fill="#8a8a8a"/><circle cx="21.5" cy="11.9" r="3.4" fill="#d2d2d2"/><circle cx="26.6" cy="15.7" r="2.9" fill="#d2d2d2"/><circle cx="23.5" cy="15" r="2.8" fill="#d2d2d2"/><circle cx="11.2" cy="17" r="3.7" fill="#8a8a8a"/><circle cx="15.9" cy="17" r="4.4" fill="#8a8a8a"/><circle cx="21.8" cy="20.4" r="4.6" fill="#8a8a8a"/><rect x="6.9" y="18.7" width="19.1" height="6.7" rx="3.35" fill="#8a8a8a"/><circle cx="11.2" cy="17" r="2.7" fill="#ffffff"/><circle cx="15.9" cy="17" r="3.4" fill="#ffffff"/><circle cx="21.8" cy="20.4" r="3.6" fill="#ffffff"/><rect x="7.9" y="19.7" width="17.1" height="4.7" rx="2.35" fill="#ffffff"/></g>
<text x="347" y="373.5" font-size="12" text-anchor="middle" font-weight="normal" fill="#111">1005</text>
<text x="347" y="396.5" font-size="12" text-anchor="middle" font-weight="normal" fill="#fff">-4</text>
<text x="385.5" y="160" font-size="12" text-anchor="middle" font-weight="normal" fill="#111">22h</text>
<path d="M0,-9.2 L5.4,8.9 L0,4.5 L-5.4,8.9 Z" fill="#0a0a0a" transform="translate(386,177.5) rotate(-65)"/>
<text x="385.5" y="235.1" font-size="12" text-anchor="middle" font-weight="normal" fill="#111">9</text>
<text x="385.5" y="272.7" font-size="12" text-anchor="middle" font-weight="normal" fill="#fff">17</text>
<g transform="translate(370.00,282)"><circle cx="7.1" cy="14.7" r="4.6" fill="#8a8a8a"/><circle cx="13" cy="9.6" r="6" fill="#8a8a8a"/><circle cx="20.2" cy="10.5" r="4.5" fill="#8a8a8a"/><circle cx="24.5" cy="14.8" r="4.1" fill="#8a8a8a"/><circle cx="11" cy="16" r="4.3" fill="#8a8a8a"/><circle cx="20" cy="16" r="4.3" fill="#8a8a8a"/><circle cx="7.1" cy="14.7" r="3.6" fill="#d2d2d2"/><circle cx="13" cy="9.6" r="5" fill="#d2d2d2"/><circle cx="20.2" cy="10.5" r="3.5" fill="#d2d2d2"/><circle cx="24.5" cy="14.8" r="3.1" fill="#d2d2d2"/><circle cx="11" cy="16" r="3.3" fill="#d2d2d2"/><circle cx="20" cy="16" r="3.3" fill="#d2d2d2"/><circle cx="17.3" cy="15.4" r="4.5" fill="#8a8a8a"/><rect x="8.7" y="14.7" width="17.3" height="7.5" rx="3.75" fill="#8a8a8a"/><circle cx="17.3" cy="15.4" r="3.5" fill="#ececec"/><rect x="9.7" y="15.7" width="15.3" height="5.5" rx="2.75" fill="#ececec"/></g>
<text x="385.5" y="373.5" font-size="12" text-anchor="middle" font-weight="normal" fill="#111">1003</text>
<text x="385.5" y="396.5" font-size="12" text-anchor="middle" font-weight="normal" fill="#fff">-1</text>
<text x="424" y="160" font-size="12" text-anchor="middle" font-weight="normal" fill="#111">01h</text>
<path d="M0,-9.2 L5.4,8.9 L0,4.5 L-5.4,8.9 Z" fill="#0a0a0a" transform="translate(424.5,177.5) rotate(-66)"/>
<text x="424" y="229.1" font-size="12" text-anchor="middle" font-weight="normal" fill="#111">13</text>
<text x="424" y="272.7" font-size="12" text-anchor="middle" font-weight="normal" fill="#111">23</text>
<g transform="translate(408.50,282)"><circle cx="7.1" cy="14.7" r="4.6" fill="#8a8a8a"/><circle cx="13" cy="9.6" r="6" fill="#8a8a8a"/><circle cx="20.2" cy="10.5" r="4.5" fill="#8a8a8a"/><circle cx="24.5" cy="14.8" r="4.1" fill="#8a8a8a"/><circle cx="11" cy="16" r="4.3" fill="#8a8a8a"/><circle cx="20" cy="16" r="4.3" fill="#8a8a8a"/><circle cx="7.1" cy="14.7" r="3.6" fill="#d2d2d2"/><circle cx="13" cy="9.6" r="5" fill="#d2d2d2"/><circle cx="20.2" cy="10.5" r="3.5" fill="#d2d2d2"/><circle cx="24.5" cy="14.8" r="3.1" fill="#d2d2d2"/><circle cx="11" cy="16" r="3.3" fill="#d2d2d2"/><circle cx="20" cy="16" r="3.3" fill="#d2d2d2"/><circle cx="17.3" cy="15.4" r="4.5" fill="#8a8a8a"/><rect x="8.7" y="14.7" width="17.3" height="7.5" rx="3.75" fill="#8a8a8a"/><circle cx="17.3" cy="15.4" r="3.5" fill="#ececec"/><rect x="9.7" y="15.7" width="15.3" height="5.5" rx="2.75" fill="#ececec"/></g>
<text x="424" y="373.5" font-size="12" text-anchor="middle" font-weight="normal" fill="#111">1002</text>
<text x="424" y="396.5" font-size="12" text-anchor="middle" font-weight="normal" fill="#fff">-1</text>
<text x="462.5" y="160" font-size="12" text-anchor="middle" font-weight="normal" fill="#111">04h</text>
<path d="M0,-9.2 L5.4,8.9 L0,4.5 L-5.4,8.9 Z" fill="#0a0a0a" transform="translate(463,177.5) rotate(-77)"/>
<text x="462.5" y="217.1" font-size="12" text-anchor="middle" font-weight="normal" fill="#111">19</text>
<text x="462.5" y="272.7" font-size="12" text-anchor="middle" font-weight="normal" fill="#111">33</text>
<g transform="translate(447.00,282)"><circle cx="7.1" cy="14.7" r="4.6" fill="#8a8a8a"/><circle cx="13" cy="9.6" r="6" fill="#8a8a8a"/><circle cx="20.2" cy="10.5" r="4.5" fill="#8a8a8a"/><circle cx="24.5" cy="14.8" r="4.1" fill="#8a8a8a"/><circle cx="11" cy="16" r="4.3" fill="#8a8a8a"/><circle cx="20" cy="16" r="4.3" fill="#8a8a8a"/><circle cx="7.1" cy="14.7" r="3.6" fill="#d2d2d2"/><circle cx="13" cy="9.6" r="5" fill="#d2d2d2"/><circle cx="20.2" cy="10.5" r="3.5" fill="#d2d2d2"/><circle cx="24.5" cy="14.8" r="3.1" fill="#d2d2d2"/><circle cx="11" cy="16" r="3.3" fill="#d2d2d2"/><circle cx="20" cy="16" r="3.3" fill="#d2d2d2"/><circle cx="17.3" cy="15.4" r="4.5" fill="#8a8a8a"/><rect x="8.7" y="14.7" width="17.3" height="7.5" rx="3.75" fill="#8a8a8a"/><circle cx="17.3" cy="15.4" r="3.5" fill="#ececec"/><rect x="9.7" y="15.7" width="15.3" height="5.5" rx="2.75" fill="#ececec"/></g>
<text x="462.5" y="373.5" font-size="12" text-anchor="middle" font-weight="normal" fill="#111">1000</text>
<text x="462.5" y="396.5" font-size="12" text-anchor="middle" font-weight="normal" fill="#fff">-2</text>
<text x="503" y="160" font-size="12" text-anchor="middle" font-weight="normal" fill="#111">07h</text>
<path d="M0,-9.2 L5.4,8.9 L0,4.5 L-5.4,8.9 Z" fill="#0a0a0a" transform="translate(503.5,177.5) rotate(-76)"/>
<text x="503" y="207.1" font-size="12" text-anchor="middle" font-weight="normal" fill="#111">24</text>
<text x="503" y="272.7" font-size="12" text-anchor="middle" font-weight="normal" fill="#fff">40</text>
<g transform="translate(487.50,282)"><circle cx="7.1" cy="14.7" r="4.6" fill="#8a8a8a"/><circle cx="13" cy="9.6" r="6" fill="#8a8a8a"/><circle cx="20.2" cy="10.5" r="4.5" fill="#8a8a8a"/><circle cx="24.5" cy="14.8" r="4.1" fill="#8a8a8a"/><circle cx="11" cy="16" r="4.3" fill="#8a8a8a"/><circle cx="20" cy="16" r="4.3" fill="#8a8a8a"/><circle cx="7.1" cy="14.7" r="3.6" fill="#d2d2d2"/><circle cx="13" cy="9.6" r="5" fill="#d2d2d2"/><circle cx="20.2" cy="10.5" r="3.5" fill="#d2d2d2"/><circle cx="24.5" cy="14.8" r="3.1" fill="#d2d2d2"/><circle cx="11" cy="16" r="3.3" fill="#d2d2d2"/><circle cx="20" cy="16" r="3.3" fill="#d2d2d2"/><circle cx="17.3" cy="15.4" r="4.5" fill="#8a8a8a"/><rect x="8.7" y="14.7" width="17.3" height="7.5" rx="3.75" fill="#8a8a8a"/><circle cx="17.3" cy="15.4" r="3.5" fill="#ececec"/><rect x="9.7" y="15.7" width="15.3" height="5.5" rx="2.75" fill="#ececec"/></g>
<text x="503" y="373.5" font-size="12" text-anchor="middle" font-weight="normal" fill="#111">998</text>
<text x="503" y="396.5" font-size="12" text-anchor="middle" font-weight="normal" fill="#fff">-2</text>
<text x="547" y="160" font-size="12" text-anchor="middle" font-weight="normal" fill="#111">10h</text>
<path d="M0,-9.2 L5.4,8.9 L0,4.5 L-5.4,8.9 Z" fill="#0a0a0a" transform="translate(547.5,177.5) rotate(-74)"/>
<text x="547" y="203.1" font-size="12" text-anchor="middle" font-weight="normal" fill="#111">26</text>
<text x="547" y="272.7" font-size="12" text-anchor="middle" font-weight="normal" fill="#fff">43</text>
<g transform="translate(531.50,282)"><circle cx="7.1" cy="14.7" r="4.6" fill="#8a8a8a"/><circle cx="13" cy="9.6" r="6" fill="#8a8a8a"/><circle cx="20.2" cy="10.5" r="4.5" fill="#8a8a8a"/><circle cx="24.5" cy="14.8" r="4.1" fill="#8a8a8a"/><circle cx="11" cy="16" r="4.3" fill="#8a8a8a"/><circle cx="20" cy="16" r="4.3" fill="#8a8a8a"/><circle cx="7.1" cy="14.7" r="3.6" fill="#d2d2d2"/><circle cx="13" cy="9.6" r="5" fill="#d2d2d2"/><circle cx="20.2" cy="10.5" r="3.5" fill="#d2d2d2"/><circle cx="24.5" cy="14.8" r="3.1" fill="#d2d2d2"/><circle cx="11" cy="16" r="3.3" fill="#d2d2d2"/><circle cx="20" cy="16" r="3.3" fill="#d2d2d2"/><circle cx="17.3" cy="15.4" r="4.5" fill="#8a8a8a"/><rect x="8.7" y="14.7" width="17.3" height="7.5" rx="3.75" fill="#8a8a8a"/><circle cx="17.3" cy="15.4" r="3.5" fill="#ececec"/><rect x="9.7" y="15.7" width="15.3" height="5.5" rx="2.75" fill="#ececec"/></g>
<text x="547" y="373.5" font-size="12" text-anchor="middle" font-weight="normal" fill="#111">999</text>
<text x="547" y="396.5" font-size="12" text-anchor="middle" font-weight="normal" fill="#fff">-2</text>
<text x="593" y="160" font-size="12" text-anchor="middle" font-weight="normal" fill="#111">13h</text>
<path d="M0,-9.2 L5.4,8.9 L0,4.5 L-5.4,8.9 Z" fill="#0a0a0a" transform="translate(593.5,177.5) rotate(-80)"/>
<text x="593" y="203.1" font-size="12" text-anchor="middle" font-weight="normal" fill="#111">26</text>
<text x="593" y="272.7" font-size="12" text-anchor="middle" font-weight="normal" fill="#fff">43</text>
<g transform="translate(577.50,282)"><circle cx="7.1" cy="14.7" r="4.6" fill="#8a8a8a"/><circle cx="13" cy="9.6" r="6" fill="#8a8a8a"/><circle cx="20.2" cy="10.5" r="4.5" fill="#8a8a8a"/><circle cx="24.5" cy="14.8" r="4.1" fill="#8a8a8a"/><circle cx="11" cy="16" r="4.3" fill="#8a8a8a"/><circle cx="20" cy="16" r="4.3" fill="#8a8a8a"/><circle cx="7.1" cy="14.7" r="3.6" fill="#d2d2d2"/><circle cx="13" cy="9.6" r="5" fill="#d2d2d2"/><circle cx="20.2" cy="10.5" r="3.5" fill="#d2d2d2"/><circle cx="24.5" cy="14.8" r="3.1" fill="#d2d2d2"/><circle cx="11" cy="16" r="3.3" fill="#d2d2d2"/><circle cx="20" cy="16" r="3.3" fill="#d2d2d2"/><circle cx="17.3" cy="15.4" r="4.5" fill="#8a8a8a"/><rect x="8.7" y="14.7" width="17.3" height="7.5" rx="3.75" fill="#8a8a8a"/><circle cx="17.3" cy="15.4" r="3.5" fill="#ececec"/><rect x="9.7" y="15.7" width="15.3" height="5.5" rx="2.75" fill="#ececec"/></g>
<text x="593" y="373.5" font-size="12" text-anchor="middle" font-weight="normal" fill="#111">998</text>
<text x="593" y="396.5" font-size="12" text-anchor="middle" font-weight="normal" fill="#fff">-2</text>
<text x="639.5" y="160" font-size="12" text-anchor="middle" font-weight="normal" fill="#111">16h</text>
<path d="M0,-9.2 L5.4,8.9 L0,4.5 L-5.4,8.9 Z" fill="#0a0a0a" transform="translate(640,177.5) rotate(-82)"/>
<text x="639.5" y="201.1" font-size="12" text-anchor="middle" font-weight="normal" fill="#111">27</text>
<text x="639.5" y="272.7" font-size="12" text-anchor="middle" font-weight="normal" fill="#fff">43</text>
<g transform="translate(624.00,282)"><circle cx="7.1" cy="14.7" r="4.6" fill="#8a8a8a"/><circle cx="13" cy="9.6" r="6" fill="#8a8a8a"/><circle cx="20.2" cy="10.5" r="4.5" fill="#8a8a8a"/><circle cx="24.5" cy="14.8" r="4.1" fill="#8a8a8a"/><circle cx="11" cy="16" r="4.3" fill="#8a8a8a"/><circle cx="20" cy="16" r="4.3" fill="#8a8a8a"/><circle cx="7.1" cy="14.7" r="3.6" fill="#d2d2d2"/><circle cx="13" cy="9.6" r="5" fill="#d2d2d2"/><circle cx="20.2" cy="10.5" r="3.5" fill="#d2d2d2"/><circle cx="24.5" cy="14.8" r="3.1" fill="#d2d2d2"/><circle cx="11" cy="16" r="3.3" fill="#d2d2d2"/><circle cx="20" cy="16" r="3.3" fill="#d2d2d2"/><circle cx="17.3" cy="15.4" r="4.5" fill="#8a8a8a"/><rect x="8.7" y="14.7" width="17.3" height="7.5" rx="3.75" fill="#8a8a8a"/><circle cx="17.3" cy="15.4" r="3.5" fill="#ececec"/><rect x="9.7" y="15.7" width="15.3" height="5.5" rx="2.75" fill="#ececec"/></g>
<text x="639.5" y="373.5" font-size="12" text-anchor="middle" font-weight="normal" fill="#111">998</text>
<text x="639.5" y="396.5" font-size="12" text-anchor="middle" font-weight="normal" fill="#fff">-2</text>
<text x="686.5" y="160" font-size="12" text-anchor="middle" font-weight="normal" fill="#111">19h</text>
<path d="M0,-9.2 L5.4,8.9 L0,4.5 L-5.4,8.9 Z" fill="#0a0a0a" transform="translate(687,177.5) rotate(-83)"/>
<text x="686.5" y="201.1" font-size="12" text-anchor="middle" font-weight="normal" fill="#111">26</text>
<text x="686.5" y="272.7" font-size="12" text-anchor="middle" font-weight="normal" fill="#fff">42</text>
<g transform="translate(671.00,282)"><circle cx="7.1" cy="14.7" r="4.6" fill="#8a8a8a"/><circle cx="13" cy="9.6" r="6" fill="#8a8a8a"/><circle cx="20.2" cy="10.5" r="4.5" fill="#8a8a8a"/><circle cx="24.5" cy="14.8" r="4.1" fill="#8a8a8a"/><circle cx="11" cy="16" r="4.3" fill="#8a8a8a"/><circle cx="20" cy="16" r="4.3" fill="#8a8a8a"/><circle cx="7.1" cy="14.7" r="3.6" fill="#d2d2d2"/><circle cx="13" cy="9.6" r="5" fill="#d2d2d2"/><circle cx="20.2" cy="10.5" r="3.5" fill="#d2d2d2"/><circle cx="24.5" cy="14.8" r="3.1" fill="#d2d2d2"/><circle cx="11" cy="16" r="3.3" fill="#d2d2d2"/><circle cx="20" cy="16" r="3.3" fill="#d2d2d2"/><circle cx="17.3" cy="15.4" r="4.5" fill="#8a8a8a"/><rect x="8.7" y="14.7" width="17.3" height="7.5" rx="3.75" fill="#8a8a8a"/><circle cx="17.3" cy="15.4" r="3.5" fill="#ececec"/><rect x="9.7" y="15.7" width="15.3" height="5.5" rx="2.75" fill="#ececec"/></g>
<text x="686.5" y="373.5" font-size="12" text-anchor="middle" font-weight="normal" fill="#111">999</text>
<text x="686.5" y="396.5" font-size="12" text-anchor="middle" font-weight="normal" fill="#fff">-1</text>
<text x="733.5" y="160" font-size="12" text-anchor="middle" font-weight="normal" fill="#111">22h</text>
<path d="M0,-9.2 L5.4,8.9 L0,4.5 L-5.4,8.9 Z" fill="#0a0a0a" transform="translate(734,177.5) rotate(-85)"/>
<text x="733.5" y="203.1" font-size="12" text-anchor="middle" font-weight="normal" fill="#111">26</text>
<text x="733.5" y="272.7" font-size="12" text-anchor="middle" font-weight="normal" fill="#fff">42</text>
<g transform="translate(718.00,282)"><circle cx="7.1" cy="14.7" r="4.6" fill="#8a8a8a"/><circle cx="13" cy="9.6" r="6" fill="#8a8a8a"/><circle cx="20.2" cy="10.5" r="4.5" fill="#8a8a8a"/><circle cx="24.5" cy="14.8" r="4.1" fill="#8a8a8a"/><circle cx="11" cy="16" r="4.3" fill="#8a8a8a"/><circle cx="20" cy="16" r="4.3" fill="#8a8a8a"/><circle cx="7.1" cy="14.7" r="3.6" fill="#d2d2d2"/><circle cx="13" cy="9.6" r="5" fill="#d2d2d2"/><circle cx="20.2" cy="10.5" r="3.5" fill="#d2d2d2"/><circle cx="24.5" cy="14.8" r="3.1" fill="#d2d2d2"/><circle cx="11" cy="16" r="3.3" fill="#d2d2d2"/><circle cx="20" cy="16" r="3.3" fill="#d2d2d2"/><circle cx="17.3" cy="15.4" r="4.5" fill="#8a8a8a"/><rect x="8.7" y="14.7" width="17.3" height="7.5" rx="3.75" fill="#8a8a8a"/><circle cx="17.3" cy="15.4" r="3.5" fill="#ececec"/><rect x="9.7" y="15.7" width="15.3" height="5.5" rx="2.75" fill="#ececec"/></g>
<text x="733.5" y="373.5" font-size="12" text-anchor="middle" font-weight="normal" fill="#111">1001</text>
<text x="733.5" y="396.5" font-size="12" text-anchor="middle" font-weight="normal" fill="#fff">-1</text>
<rect x="2" y="467" width="755" height="1" fill="#b2b2b2"/>
<rect x="2" y="491" width="94" height="1" fill="#b2b2b2"/>
<rect x="2" y="514" width="94" height="1" fill="#b2b2b2"/>
<rect x="2" y="576.6" width="94" height="1" fill="#b2b2b2"/>
<rect x="2" y="601.6" width="94" height="1" fill="#b2b2b2"/>
<rect x="2" y="632.1" width="94" height="1" fill="#b2b2b2"/>
<rect x="2" y="655.6" width="94" height="1" fill="#b2b2b2"/>
<rect x="2" y="677.6" width="94" height="1" fill="#b2b2b2"/>
<rect x="2" y="700.3" width="94" height="1" fill="#b2b2b2"/>
<rect x="2" y="724.9" width="94" height="1" fill="#b2b2b2"/>
<rect x="96" y="435" width="1" height="166.6" fill="#b2b2b2"/>
<rect x="96" y="601.6" width="1" height="123.5" fill="#b2b2b2"/>
<rect x="434" y="435" width="1" height="78.5" fill="#b2b2b2"/>
<rect x="144" y="491.6" width="1" height="21.9" fill="#b2b2b2"/>
<rect x="190" y="491.6" width="1" height="21.9" fill="#b2b2b2"/>
<rect x="232" y="491.6" width="1" height="21.9" fill="#b2b2b2"/>
<rect x="273" y="468" width="1" height="45.5" fill="#b2b2b2"/>
<rect x="313" y="468" width="1" height="45.5" fill="#b2b2b2"/>
<rect x="354" y="491.6" width="1" height="21.9" fill="#b2b2b2"/>
<rect x="394" y="491.6" width="1" height="21.9" fill="#b2b2b2"/>
<rect x="475" y="491.6" width="1" height="21.9" fill="#b2b2b2"/>
<rect x="515" y="491.6" width="1" height="21.9" fill="#b2b2b2"/>
<rect x="555" y="491.6" width="1" height="21.9" fill="#b2b2b2"/>
<rect x="596" y="468" width="1" height="45.5" fill="#b2b2b2"/>
<rect x="636" y="468" width="1" height="45.5" fill="#b2b2b2"/>
<rect x="677" y="491.6" width="1" height="21.9" fill="#b2b2b2"/>
<rect x="717" y="491.6" width="1" height="21.9" fill="#b2b2b2"/>
<rect x="144" y="601.6" width="1" height="99" fill="#b2b2b2"/>
<rect x="190" y="601.6" width="1" height="99" fill="#b2b2b2"/>
<rect x="232" y="629.6" width="1" height="71" fill="#b2b2b2"/>
<rect x="273" y="629.6" width="1" height="71" fill="#b2b2b2"/>
<rect x="313" y="629.6" width="1" height="71" fill="#b2b2b2"/>
<rect x="354" y="629.6" width="1" height="71" fill="#b2b2b2"/>
<rect x="394" y="629.6" width="1" height="71" fill="#b2b2b2"/>
<rect x="434" y="629.6" width="1" height="71" fill="#b2b2b2"/>
<rect x="475" y="629.6" width="1" height="71" fill="#b2b2b2"/>
<rect x="515" y="629.6" width="1" height="71" fill="#b2b2b2"/>
<rect x="555" y="629.6" width="1" height="71" fill="#b2b2b2"/>
<rect x="596" y="629.6" width="1" height="71" fill="#b2b2b2"/>
<rect x="636" y="629.6" width="1" height="71" fill="#b2b2b2"/>
<rect x="677" y="629.6" width="1" height="71" fill="#b2b2b2"/>
<rect x="717" y="629.6" width="1" height="71" fill="#b2b2b2"/>
<rect x="96" y="468" width="136" height="23.6" fill="#c8c8c8"/>
<rect x="354" y="468" width="201" height="23.6" fill="#c8c8c8"/>
<rect x="677" y="468" width="80" height="23.6" fill="#c8c8c8"/>
<rect x="96" y="528" width="48" height="49.1" fill="#dedc1c"/>
<rect x="144" y="530" width="46" height="47.1" fill="#a2c62c"/>
<rect x="190" y="534" width="42" height="43.1" fill="#65b32e"/>
<rect x="232" y="540" width="41" height="37.1" fill="#1d8641"/>
<rect x="273" y="546" width="40" height="31.1" fill="#00a6c7"/>
<rect x="313" y="556" width="41" height="21.1" fill="#0080c9"/>
<rect x="354" y="552" width="40" height="25.1" fill="#009ee0"/>
<rect x="394" y="558" width="40" height="19.1" fill="#0069b4"/>
<rect x="434" y="566" width="41" height="11.1" fill="#5b3a8e"/>
<rect x="475" y="568" width="40" height="9.1" fill="#5b3a8e"/>
<rect x="515" y="570" width="81" height="7.1" fill="#6e2585"/>
<rect x="596" y="568" width="40" height="9.1" fill="#5b3a8e"/>
<rect x="636" y="566" width="41" height="11.1" fill="#5b3a8e"/>
<rect x="677" y="562" width="40" height="15.1" fill="#35529e"/>
<rect x="717" y="558" width="40" height="19.1" fill="#0069b4"/>
<rect x="96" y="576.6" width="48" height="25.5" fill="#e96220"/>
<rect x="144" y="576.6" width="46" height="25.5" fill="#ee8122"/>
<rect x="190" y="576.6" width="42" height="25.5" fill="#f8b71b"/>
<rect x="232" y="576.6" width="41" height="25.5" fill="#fdd311"/>
<rect x="273" y="576.6" width="40" height="25.5" fill="#dedc1c"/>
<rect x="313" y="576.6" width="41" height="25.5" fill="#65b32e"/>
<rect x="354" y="576.6" width="40" height="25.5" fill="#a2c62c"/>
<rect x="394" y="576.6" width="40" height="25.5" fill="#009c5f"/>
<rect x="434" y="576.6" width="41" height="25.5" fill="#0069b4"/>
<rect x="475" y="576.6" width="40" height="25.5" fill="#5b3a8e"/>
<rect x="515" y="576.6" width="40" height="25.5" fill="#6e2585"/>
<rect x="555" y="576.6" width="41" height="25.5" fill="#5b3a8e"/>
<rect x="596" y="576.6" width="40" height="25.5" fill="#35529e"/>
<rect x="636" y="576.6" width="41" height="25.5" fill="#0069b4"/>
<rect x="677" y="576.6" width="40" height="25.5" fill="#1d8641"/>
<rect x="717" y="576.6" width="40" height="25.5" fill="#ffed00"/>
<rect x="96" y="700.1" width="94" height="25.1" fill="#009ee0"/>
<rect x="190" y="700.1" width="204" height="25.1" fill="#00a6c7"/>
<rect x="394" y="700.1" width="81" height="25.1" fill="#009ee0"/>
<rect x="475" y="700.1" width="40" height="25.1" fill="#0080c9"/>
<rect x="515" y="700.1" width="81" height="25.1" fill="#0069b4"/>
<rect x="596" y="700.1" width="40" height="25.1" fill="#0080c9"/>
<rect x="636" y="700.1" width="41" height="25.1" fill="#0069b4"/>
<rect x="677" y="700.1" width="40" height="25.1" fill="#35529e"/>
<rect x="717" y="700.1" width="40" height="25.1" fill="#0069b4"/>
<text x="2.5" y="448" font-size="14.67" text-anchor="start" font-weight="bold" fill="#000">Lokales</text>
<text x="2.5" y="464" font-size="14.67" text-anchor="start" font-weight="bold" fill="#000">Datum</text>
<text x="103.6" y="448" font-size="14.67" text-anchor="start" font-weight="bold" fill="#000">Samstag, Jan 10</text>
<text x="441.5" y="448" font-size="14.67" text-anchor="start" font-weight="bold" fill="#000">Sonntag, Jan 11</text>
<text x="2" y="482" font-size="9.33" text-anchor="start" font-weight="normal" fill="#111" stroke="#111" stroke-width="0.25">Lokale Zeit</text>
<text x="2" y="505.2" font-size="9.33" text-anchor="start" font-weight="normal" fill="#111" stroke="#111" stroke-width="0.25">Windrichtung</text>
<text x="2" y="542" font-size="9.33" text-anchor="start" font-weight="normal" fill="#111" stroke="#111" stroke-width="0.25">Windgeschwindigkeit</text>
<text x="2" y="553.5" font-size="9.33" text-anchor="start" font-weight="normal" fill="#111" stroke="#111" stroke-width="0.25">(kts)</text>
<text x="2" y="591.6" font-size="9.33" text-anchor="start" font-weight="normal" fill="#111" stroke="#111" stroke-width="0.25">Windböen (kts)</text>
<text x="2" y="619.6" font-size="9.33" text-anchor="start" font-weight="normal" fill="#111" stroke="#111" stroke-width="0.25">Bewölkung</text>
<text x="2" y="646.6" font-size="9.33" text-anchor="start" font-weight="normal" fill="#111" stroke="#111" stroke-width="0.25">Niederschlag (mm/h)</text>
<text x="2" y="669.1" font-size="9.33" text-anchor="start" font-weight="normal" fill="#111" stroke="#111" stroke-width="0.25">Niederschlagsart</text>
<text x="2" y="692.1" font-size="9.33" text-anchor="start" font-weight="normal" fill="#111" stroke="#111" stroke-width="0.25">Luftdruck (hPa)</text>
<text x="2" y="715.6" font-size="9.33" text-anchor="start" font-weight="normal" fill="#111" stroke="#111" stroke-width="0.25">Lufttemperatur (°C)</text>
<text x="120" y="484" font-size="12" text-anchor="middle" font-weight="normal" fill="#111">01h</text>
<path d="M0,-9.2 L5.4,8.9 L0,4.5 L-5.4,8.9 Z" fill="#0a0a0a" transform="translate(120.5,502.2) rotate(-86)"/>
<text x="120" y="526.1" font-size="12" text-anchor="middle" font-weight="normal" fill="#111">25</text>
<text x="120" y="594" font-size="12" text-anchor="middle" font-weight="normal" fill="#111">39</text>
<g transform="translate(104.50,602.6)"><circle cx="7.1" cy="14.7" r="4.6" fill="#8a8a8a"/><circle cx="13" cy="9.6" r="6" fill="#8a8a8a"/><circle cx="20.2" cy="10.5" r="4.5" fill="#8a8a8a"/><circle cx="24.5" cy="14.8" r="4.1" fill="#8a8a8a"/><circle cx="11" cy="16" r="4.3" fill="#8a8a8a"/><circle cx="20" cy="16" r="4.3" fill="#8a8a8a"/><circle cx="7.1" cy="14.7" r="3.6" fill="#d2d2d2"/><circle cx="13" cy="9.6" r="5" fill="#d2d2d2"/><circle cx="20.2" cy="10.5" r="3.5" fill="#d2d2d2"/><circle cx="24.5" cy="14.8" r="3.1" fill="#d2d2d2"/><circle cx="11" cy="16" r="3.3" fill="#d2d2d2"/><circle cx="20" cy="16" r="3.3" fill="#d2d2d2"/><circle cx="17.3" cy="15.4" r="4.5" fill="#8a8a8a"/><rect x="8.7" y="14.7" width="17.3" height="7.5" rx="3.75" fill="#8a8a8a"/><circle cx="17.3" cy="15.4" r="3.5" fill="#ececec"/><rect x="9.7" y="15.7" width="15.3" height="5.5" rx="2.75" fill="#ececec"/></g>
<text x="120" y="694.1" font-size="12" text-anchor="middle" font-weight="normal" fill="#111">1002</text>
<text x="120" y="717.1" font-size="12" text-anchor="middle" font-weight="normal" fill="#fff">-2</text>
<text x="167" y="484" font-size="12" text-anchor="middle" font-weight="normal" fill="#111">04h</text>
<path d="M0,-9.2 L5.4,8.9 L0,4.5 L-5.4,8.9 Z" fill="#0a0a0a" transform="translate(167.5,502.2) rotate(-84)"/>
<text x="167" y="528.1" font-size="12" text-anchor="middle" font-weight="normal" fill="#111">24</text>
<text x="167" y="594" font-size="12" text-anchor="middle" font-weight="normal" fill="#111">37</text>
<g transform="translate(151.50,602.6)"><circle cx="7.1" cy="14.7" r="4.6" fill="#8a8a8a"/><circle cx="13" cy="9.6" r="6" fill="#8a8a8a"/><circle cx="20.2" cy="10.5" r="4.5" fill="#8a8a8a"/><circle cx="24.5" cy="14.8" r="4.1" fill="#8a8a8a"/><circle cx="11" cy="16" r="4.3" fill="#8a8a8a"/><circle cx="20" cy="16" r="4.3" fill="#8a8a8a"/><circle cx="7.1" cy="14.7" r="3.6" fill="#d2d2d2"/><circle cx="13" cy="9.6" r="5" fill="#d2d2d2"/><circle cx="20.2" cy="10.5" r="3.5" fill="#d2d2d2"/><circle cx="24.5" cy="14.8" r="3.1" fill="#d2d2d2"/><circle cx="11" cy="16" r="3.3" fill="#d2d2d2"/><circle cx="20" cy="16" r="3.3" fill="#d2d2d2"/><circle cx="17.3" cy="15.4" r="4.5" fill="#8a8a8a"/><rect x="8.7" y="14.7" width="17.3" height="7.5" rx="3.75" fill="#8a8a8a"/><circle cx="17.3" cy="15.4" r="3.5" fill="#ececec"/><rect x="9.7" y="15.7" width="15.3" height="5.5" rx="2.75" fill="#ececec"/></g>
<text x="167" y="694.1" font-size="12" text-anchor="middle" font-weight="normal" fill="#111">1005</text>
<text x="167" y="717.1" font-size="12" text-anchor="middle" font-weight="normal" fill="#fff">-2</text>
<text x="211" y="484" font-size="12" text-anchor="middle" font-weight="normal" fill="#111">07h</text>
<path d="M0,-9.2 L5.4,8.9 L0,4.5 L-5.4,8.9 Z" fill="#0a0a0a" transform="translate(211.5,502.2) rotate(-80)"/>
<text x="211" y="532.1" font-size="12" text-anchor="middle" font-weight="normal" fill="#111">22</text>
<text x="211" y="594" font-size="12" text-anchor="middle" font-weight="normal" fill="#111">34</text>
<g transform="translate(195.50,602.6)"><circle cx="7.1" cy="14.7" r="4.6" fill="#8a8a8a"/><circle cx="13" cy="9.6" r="6" fill="#8a8a8a"/><circle cx="20.2" cy="10.5" r="4.5" fill="#8a8a8a"/><circle cx="24.5" cy="14.8" r="4.1" fill="#8a8a8a"/><circle cx="11" cy="16" r="4.3" fill="#8a8a8a"/><circle cx="20" cy="16" r="4.3" fill="#8a8a8a"/><circle cx="7.1" cy="14.7" r="3.6" fill="#d2d2d2"/><circle cx="13" cy="9.6" r="5" fill="#d2d2d2"/><circle cx="20.2" cy="10.5" r="3.5" fill="#d2d2d2"/><circle cx="24.5" cy="14.8" r="3.1" fill="#d2d2d2"/><circle cx="11" cy="16" r="3.3" fill="#d2d2d2"/><circle cx="20" cy="16" r="3.3" fill="#d2d2d2"/><circle cx="17.3" cy="15.4" r="4.5" fill="#8a8a8a"/><rect x="8.7" y="14.7" width="17.3" height="7.5" rx="3.75" fill="#8a8a8a"/><circle cx="17.3" cy="15.4" r="3.5" fill="#ececec"/><rect x="9.7" y="15.7" width="15.3" height="5.5" rx="2.75" fill="#ececec"/></g>
<text x="211" y="694.1" font-size="12" text-anchor="middle" font-weight="normal" fill="#111">1008</text>
<text x="211" y="717.1" font-size="12" text-anchor="middle" font-weight="normal" fill="#fff">-1</text>
<text x="252.5" y="484" font-size="12" text-anchor="middle" font-weight="normal" fill="#111">10h</text>
<path d="M0,-9.2 L5.4,8.9 L0,4.5 L-5.4,8.9 Z" fill="#0a0a0a" transform="translate(253,502.2) rotate(-77)"/>
<text x="252.5" y="538.1" font-size="12" text-anchor="middle" font-weight="normal" fill="#111">19</text>
<text x="252.5" y="594" font-size="12" text-anchor="middle" font-weight="normal" fill="#111">30</text>
<g transform="translate(237.00,602.6)"><circle cx="7.1" cy="14.7" r="4.6" fill="#8a8a8a"/><circle cx="13" cy="9.6" r="6" fill="#8a8a8a"/><circle cx="20.2" cy="10.5" r="4.5" fill="#8a8a8a"/><circle cx="24.5" cy="14.8" r="4.1" fill="#8a8a8a"/><circle cx="11" cy="16" r="4.3" fill="#8a8a8a"/><circle cx="20" cy="16" r="4.3" fill="#8a8a8a"/><circle cx="7.1" cy="14.7" r="3.6" fill="#d2d2d2"/><circle cx="13" cy="9.6" r="5" fill="#d2d2d2"/><circle cx="20.2" cy="10.5" r="3.5" fill="#d2d2d2"/><circle cx="24.5" cy="14.8" r="3.1" fill="#d2d2d2"/><circle cx="11" cy="16" r="3.3" fill="#d2d2d2"/><circle cx="20" cy="16" r="3.3" fill="#d2d2d2"/><circle cx="17.3" cy="15.4" r="4.5" fill="#8a8a8a"/><rect x="8.7" y="14.7" width="17.3" height="7.5" rx="3.75" fill="#8a8a8a"/><circle cx="17.3" cy="15.4" r="3.5" fill="#ececec"/><rect x="9.7" y="15.7" width="15.3" height="5.5" rx="2.75" fill="#ececec"/></g>
<text x="252.5" y="694.1" font-size="12" text-anchor="middle" font-weight="normal" fill="#111">1011</text>
<text x="252.5" y="717.1" font-size="12" text-anchor="middle" font-weight="normal" fill="#fff">-1</text>
<text x="293" y="484" font-size="12" text-anchor="middle" font-weight="normal" fill="#111">13h</text>
<path d="M0,-9.2 L5.4,8.9 L0,4.5 L-5.4,8.9 Z" fill="#0a0a0a" transform="translate(293.5,502.2) rotate(-80)"/>
<text x="293" y="544.1" font-size="12" text-anchor="middle" font-weight="normal" fill="#111">15</text>
<text x="293" y="594" font-size="12" text-anchor="middle" font-weight="normal" fill="#111">25</text>
<g transform="translate(274.00,600)"><circle cx="24.8" cy="14" r="4.3" fill="#ffd500" stroke="#fdb913" stroke-width="1"/><line x1="24.80" y1="8.00" x2="24.80" y2="4.80" stroke="#fdb913" stroke-width="2"/><line x1="20.20" y1="10.14" x2="17.75" y2="8.09" stroke="#fdb913" stroke-width="2"/><line x1="29.40" y1="10.14" x2="31.85" y2="8.09" stroke="#fdb913" stroke-width="2"/><line x1="30.80" y1="14.00" x2="34.00" y2="14.00" stroke="#fdb913" stroke-width="2"/><line x1="29.04" y1="18.24" x2="31.31" y2="20.51" stroke="#fdb913" stroke-width="2"/><circle cx="12.7" cy="12.3" r="4.9" fill="#8a8a8a"/><circle cx="8" cy="16.3" r="4.5" fill="#8a8a8a"/><circle cx="12" cy="17" r="4" fill="#8a8a8a"/><circle cx="12.7" cy="12.3" r="3.9" fill="#d2d2d2"/><circle cx="8" cy="16.3" r="3.5" fill="#d2d2d2"/><circle cx="12" cy="17" r="3" fill="#d2d2d2"/><circle cx="18.5" cy="18" r="5.2" fill="#8a8a8a"/><circle cx="23.5" cy="21" r="4" fill="#8a8a8a"/><rect x="8.3" y="18.1" width="20.3" height="8.1" rx="4.05" fill="#8a8a8a"/><circle cx="18.5" cy="18" r="4.2" fill="#ffffff"/><circle cx="23.5" cy="21" r="3" fill="#ffffff"/><rect x="9.3" y="19.1" width="18.3" height="6.1" rx="3.05" fill="#ffffff"/></g>
<text x="293" y="694.1" font-size="12" text-anchor="middle" font-weight="normal" fill="#111">1013</text>
<text x="293" y="717.1" font-size="12" text-anchor="middle" font-weight="normal" fill="#fff">0</text>
<text x="333.5" y="484" font-size="12" text-anchor="middle" font-weight="normal" fill="#111">16h</text>
<path d="M0,-9.2 L5.4,8.9 L0,4.5 L-5.4,8.9 Z" fill="#0a0a0a" transform="translate(334,502.2) rotate(-88)"/>
<text x="333.5" y="554.1" font-size="12" text-anchor="middle" font-weight="normal" fill="#111">11</text>
<text x="333.5" y="594" font-size="12" text-anchor="middle" font-weight="normal" fill="#fff">21</text>
<g transform="translate(318.00,602.6)"><circle cx="7.1" cy="14.7" r="4.6" fill="#8a8a8a"/><circle cx="13" cy="9.6" r="6" fill="#8a8a8a"/><circle cx="20.2" cy="10.5" r="4.5" fill="#8a8a8a"/><circle cx="24.5" cy="14.8" r="4.1" fill="#8a8a8a"/><circle cx="11" cy="16" r="4.3" fill="#8a8a8a"/><circle cx="20" cy="16" r="4.3" fill="#8a8a8a"/><circle cx="7.1" cy="14.7" r="3.6" fill="#d2d2d2"/><circle cx="13" cy="9.6" r="5" fill="#d2d2d2"/><circle cx="20.2" cy="10.5" r="3.5" fill="#d2d2d2"/><circle cx="24.5" cy="14.8" r="3.1" fill="#d2d2d2"/><circle cx="11" cy="16" r="3.3" fill="#d2d2d2"/><circle cx="20" cy="16" r="3.3" fill="#d2d2d2"/><circle cx="17.3" cy="15.4" r="4.5" fill="#8a8a8a"/><rect x="8.7" y="14.7" width="17.3" height="7.5" rx="3.75" fill="#8a8a8a"/><circle cx="17.3" cy="15.4" r="3.5" fill="#ececec"/><rect x="9.7" y="15.7" width="15.3" height="5.5" rx="2.75" fill="#ececec"/></g>
<text x="333.5" y="694.1" font-size="12" text-anchor="middle" font-weight="normal" fill="#111">1016</text>
<text x="333.5" y="717.1" font-size="12" text-anchor="middle" font-weight="normal" fill="#fff">-1</text>
<text x="374" y="484" font-size="12" text-anchor="middle" font-weight="normal" fill="#111">19h</text>
<path d="M0,-9.2 L5.4,8.9 L0,4.5 L-5.4,8.9 Z" fill="#0a0a0a" transform="translate(374.5,502.2) rotate(-110)"/>
<text x="374" y="550.1" font-size="12" text-anchor="middle" font-weight="normal" fill="#111">13</text>
<text x="374" y="594" font-size="12" text-anchor="middle" font-weight="normal" fill="#111">22</text>
<g transform="translate(358.50,602.6)"><circle cx="7.1" cy="14.7" r="4.6" fill="#8a8a8a"/><circle cx="13" cy="9.6" r="6" fill="#8a8a8a"/><circle cx="20.2" cy="10.5" r="4.5" fill="#8a8a8a"/><circle cx="24.5" cy="14.8" r="4.1" fill="#8a8a8a"/><circle cx="11" cy="16" r="4.3" fill="#8a8a8a"/><circle cx="20" cy="16" r="4.3" fill="#8a8a8a"/><circle cx="7.1" cy="14.7" r="3.6" fill="#d2d2d2"/><circle cx="13" cy="9.6" r="5" fill="#d2d2d2"/><circle cx="20.2" cy="10.5" r="3.5" fill="#d2d2d2"/><circle cx="24.5" cy="14.8" r="3.1" fill="#d2d2d2"/><circle cx="11" cy="16" r="3.3" fill="#d2d2d2"/><circle cx="20" cy="16" r="3.3" fill="#d2d2d2"/><circle cx="17.3" cy="15.4" r="4.5" fill="#8a8a8a"/><rect x="8.7" y="14.7" width="17.3" height="7.5" rx="3.75" fill="#8a8a8a"/><circle cx="17.3" cy="15.4" r="3.5" fill="#ececec"/><rect x="9.7" y="15.7" width="15.3" height="5.5" rx="2.75" fill="#ececec"/></g>
<text x="374" y="694.1" font-size="12" text-anchor="middle" font-weight="normal" fill="#111">1018</text>
<text x="374" y="717.1" font-size="12" text-anchor="middle" font-weight="normal" fill="#fff">-1</text>
<text x="414" y="484" font-size="12" text-anchor="middle" font-weight="normal" fill="#111">22h</text>
<path d="M0,-9.2 L5.4,8.9 L0,4.5 L-5.4,8.9 Z" fill="#0a0a0a" transform="translate(414.5,502.2) rotate(-110)"/>
<text x="414" y="556.1" font-size="12" text-anchor="middle" font-weight="normal" fill="#111">9</text>
<text x="414" y="594" font-size="12" text-anchor="middle" font-weight="normal" fill="#fff">17</text>
<g transform="translate(397.30,600.6)"><path d="M9.7,3.2 A7,7 0 1 1 2.5,12.4 A5.9,5.9 0 0 0 9.7,3.2 Z" fill="#b5e0ef" stroke="#6fbfd8" stroke-width="1" stroke-linejoin="round"/><circle cx="21.5" cy="11.9" r="4.4" fill="#8a8a8a"/><circle cx="26.6" cy="15.7" r="3.9" fill="#8a8a8a"/><circle cx="23.5" cy="15" r="3.8" fill="#8a8a8a"/><circle cx="21.5" cy="11.9" r="3.4" fill="#d2d2d2"/><circle cx="26.6" cy="15.7" r="2.9" fill="#d2d2d2"/><circle cx="23.5" cy="15" r="2.8" fill="#d2d2d2"/><circle cx="11.2" cy="17" r="3.7" fill="#8a8a8a"/><circle cx="15.9" cy="17" r="4.4" fill="#8a8a8a"/><circle cx="21.8" cy="20.4" r="4.6" fill="#8a8a8a"/><rect x="6.9" y="18.7" width="19.1" height="6.7" rx="3.35" fill="#8a8a8a"/><circle cx="11.2" cy="17" r="2.7" fill="#ffffff"/><circle cx="15.9" cy="17" r="3.4" fill="#ffffff"/><circle cx="21.8" cy="20.4" r="3.6" fill="#ffffff"/><rect x="7.9" y="19.7" width="17.1" height="4.7" rx="2.35" fill="#ffffff"/></g>
<text x="414" y="694.1" font-size="12" text-anchor="middle" font-weight="normal" fill="#111">1020</text>
<text x="414" y="717.1" font-size="12" text-anchor="middle" font-weight="normal" fill="#fff">-2</text>
<text x="454.5" y="484" font-size="12" text-anchor="middle" font-weight="normal" fill="#111">01h</text>
<path d="M0,-9.2 L5.4,8.9 L0,4.5 L-5.4,8.9 Z" fill="#0a0a0a" transform="translate(455,502.2) rotate(-144)"/>
<text x="454.5" y="564.1" font-size="12" text-anchor="middle" font-weight="normal" fill="#111">6</text>
<text x="454.5" y="594" font-size="12" text-anchor="middle" font-weight="normal" fill="#fff">9</text>
<g transform="translate(439.00,602.6)"><circle cx="7.1" cy="14.7" r="4.6" fill="#8a8a8a"/><circle cx="13" cy="9.6" r="6" fill="#8a8a8a"/><circle cx="20.2" cy="10.5" r="4.5" fill="#8a8a8a"/><circle cx="24.5" cy="14.8" r="4.1" fill="#8a8a8a"/><circle cx="11" cy="16" r="4.3" fill="#8a8a8a"/><circle cx="20" cy="16" r="4.3" fill="#8a8a8a"/><circle cx="7.1" cy="14.7" r="3.6" fill="#d2d2d2"/><circle cx="13" cy="9.6" r="5" fill="#d2d2d2"/><circle cx="20.2" cy="10.5" r="3.5" fill="#d2d2d2"/><circle cx="24.5" cy="14.8" r="3.1" fill="#d2d2d2"/><circle cx="11" cy="16" r="3.3" fill="#d2d2d2"/><circle cx="20" cy="16" r="3.3" fill="#d2d2d2"/><circle cx="17.3" cy="15.4" r="4.5" fill="#8a8a8a"/><rect x="8.7" y="14.7" width="17.3" height="7.5" rx="3.75" fill="#8a8a8a"/><circle cx="17.3" cy="15.4" r="3.5" fill="#ececec"/><rect x="9.7" y="15.7" width="15.3" height="5.5" rx="2.75" fill="#ececec"/></g>
<text x="454.5" y="694.1" font-size="12" text-anchor="middle" font-weight="normal" fill="#111">1022</text>
<text x="454.5" y="717.1" font-size="12" text-anchor="middle" font-weight="normal" fill="#fff">-3</text>
<text x="495" y="484" font-size="12" text-anchor="middle" font-weight="normal" fill="#111">04h</text>
<path d="M0,-9.2 L5.4,8.9 L0,4.5 L-5.4,8.9 Z" fill="#0a0a0a" transform="translate(495.5,502.2) rotate(-140)"/>
<text x="495" y="566.1" font-size="12" text-anchor="middle" font-weight="normal" fill="#111">5</text>
<text x="495" y="594" font-size="12" text-anchor="middle" font-weight="normal" fill="#fff">5</text>
<g transform="translate(479.50,602.6)"><circle cx="7.1" cy="14.7" r="4.6" fill="#8a8a8a"/><circle cx="13" cy="9.6" r="6" fill="#8a8a8a"/><circle cx="20.2" cy="10.5" r="4.5" fill="#8a8a8a"/><circle cx="24.5" cy="14.8" r="4.1" fill="#8a8a8a"/><circle cx="11" cy="16" r="4.3" fill="#8a8a8a"/><circle cx="20" cy="16" r="4.3" fill="#8a8a8a"/><circle cx="7.1" cy="14.7" r="3.6" fill="#d2d2d2"/><circle cx="13" cy="9.6" r="5" fill="#d2d2d2"/><circle cx="20.2" cy="10.5" r="3.5" fill="#d2d2d2"/><circle cx="24.5" cy="14.8" r="3.1" fill="#d2d2d2"/><circle cx="11" cy="16" r="3.3" fill="#d2d2d2"/><circle cx="20" cy="16" r="3.3" fill="#d2d2d2"/><circle cx="17.3" cy="15.4" r="4.5" fill="#8a8a8a"/><rect x="8.7" y="14.7" width="17.3" height="7.5" rx="3.75" fill="#8a8a8a"/><circle cx="17.3" cy="15.4" r="3.5" fill="#ececec"/><rect x="9.7" y="15.7" width="15.3" height="5.5" rx="2.75" fill="#ececec"/></g>
<text x="495" y="694.1" font-size="12" text-anchor="middle" font-weight="normal" fill="#111">1023</text>
<text x="495" y="717.1" font-size="12" text-anchor="middle" font-weight="normal" fill="#fff">-5</text>
<text x="535" y="484" font-size="12" text-anchor="middle" font-weight="normal" fill="#111">07h</text>
<path d="M0,-9.2 L5.4,8.9 L0,4.5 L-5.4,8.9 Z" fill="#0a0a0a" transform="translate(535.5,502.2) rotate(-119)"/>
<text x="535" y="568.1" font-size="12" text-anchor="middle" font-weight="normal" fill="#111">3</text>
<text x="535" y="594" font-size="12" text-anchor="middle" font-weight="normal" fill="#fff">3</text>
<g transform="translate(519.50,602.6)"><circle cx="7.1" cy="14.7" r="4.6" fill="#8a8a8a"/><circle cx="13" cy="9.6" r="6" fill="#8a8a8a"/><circle cx="20.2" cy="10.5" r="4.5" fill="#8a8a8a"/><circle cx="24.5" cy="14.8" r="4.1" fill="#8a8a8a"/><circle cx="11" cy="16" r="4.3" fill="#8a8a8a"/><circle cx="20" cy="16" r="4.3" fill="#8a8a8a"/><circle cx="7.1" cy="14.7" r="3.6" fill="#d2d2d2"/><circle cx="13" cy="9.6" r="5" fill="#d2d2d2"/><circle cx="20.2" cy="10.5" r="3.5" fill="#d2d2d2"/><circle cx="24.5" cy="14.8" r="3.1" fill="#d2d2d2"/><circle cx="11" cy="16" r="3.3" fill="#d2d2d2"/><circle cx="20" cy="16" r="3.3" fill="#d2d2d2"/><circle cx="17.3" cy="15.4" r="4.5" fill="#8a8a8a"/><rect x="8.7" y="14.7" width="17.3" height="7.5" rx="3.75" fill="#8a8a8a"/><circle cx="17.3" cy="15.4" r="3.5" fill="#ececec"/><rect x="9.7" y="15.7" width="15.3" height="5.5" rx="2.75" fill="#ececec"/></g>
<text x="535" y="694.1" font-size="12" text-anchor="middle" font-weight="normal" fill="#111">1024</text>
<text x="535" y="717.1" font-size="12" text-anchor="middle" font-weight="normal" fill="#fff">-7</text>
<text x="575.5" y="484" font-size="12" text-anchor="middle" font-weight="normal" fill="#111">10h</text>
<path d="M0,-9.2 L5.4,8.9 L0,4.5 L-5.4,8.9 Z" fill="#0a0a0a" transform="translate(576,502.2) rotate(-53)"/>
<text x="575.5" y="568.1" font-size="12" text-anchor="middle" font-weight="normal" fill="#111">4</text>
<text x="575.5" y="594" font-size="12" text-anchor="middle" font-weight="normal" fill="#fff">4</text>
<g transform="translate(556.00,600)"><circle cx="19.5" cy="15.4" r="6.6" fill="#ffd500" stroke="#fdb913" stroke-width="1"/><line x1="19.50" y1="6.50" x2="19.50" y2="3.40" stroke="#fdb913" stroke-width="2"/><line x1="25.79" y1="9.11" x2="27.99" y2="6.91" stroke="#fdb913" stroke-width="2"/><line x1="28.40" y1="15.40" x2="31.50" y2="15.40" stroke="#fdb913" stroke-width="2"/><line x1="25.79" y1="21.69" x2="27.99" y2="23.89" stroke="#fdb913" stroke-width="2"/><line x1="19.50" y1="24.30" x2="19.50" y2="27.40" stroke="#fdb913" stroke-width="2"/><line x1="13.21" y1="21.69" x2="11.01" y2="23.89" stroke="#fdb913" stroke-width="2"/><line x1="10.60" y1="15.40" x2="7.50" y2="15.40" stroke="#fdb913" stroke-width="2"/><line x1="13.21" y1="9.11" x2="11.01" y2="6.91" stroke="#fdb913" stroke-width="2"/></g>
<text x="575.5" y="694.1" font-size="12" text-anchor="middle" font-weight="normal" fill="#111">1024</text>
<text x="575.5" y="717.1" font-size="12" text-anchor="middle" font-weight="normal" fill="#fff">-7</text>
<text x="616" y="484" font-size="12" text-anchor="middle" font-weight="normal" fill="#111">13h</text>
<path d="M0,-9.2 L5.4,8.9 L0,4.5 L-5.4,8.9 Z" fill="#0a0a0a" transform="translate(616.5,502.2) rotate(12)"/>
<text x="616" y="566.1" font-size="12" text-anchor="middle" font-weight="normal" fill="#111">5</text>
<text x="616" y="594" font-size="12" text-anchor="middle" font-weight="normal" fill="#fff">8</text>
<g transform="translate(600.50,602.6)"><circle cx="7.1" cy="14.7" r="4.6" fill="#8a8a8a"/><circle cx="13" cy="9.6" r="6" fill="#8a8a8a"/><circle cx="20.2" cy="10.5" r="4.5" fill="#8a8a8a"/><circle cx="24.5" cy="14.8" r="4.1" fill="#8a8a8a"/><circle cx="11" cy="16" r="4.3" fill="#8a8a8a"/><circle cx="20" cy="16" r="4.3" fill="#8a8a8a"/><circle cx="7.1" cy="14.7" r="3.6" fill="#d2d2d2"/><circle cx="13" cy="9.6" r="5" fill="#d2d2d2"/><circle cx="20.2" cy="10.5" r="3.5" fill="#d2d2d2"/><circle cx="24.5" cy="14.8" r="3.1" fill="#d2d2d2"/><circle cx="11" cy="16" r="3.3" fill="#d2d2d2"/><circle cx="20" cy="16" r="3.3" fill="#d2d2d2"/><circle cx="17.3" cy="15.4" r="4.5" fill="#8a8a8a"/><rect x="8.7" y="14.7" width="17.3" height="7.5" rx="3.75" fill="#8a8a8a"/><circle cx="17.3" cy="15.4" r="3.5" fill="#ececec"/><rect x="9.7" y="15.7" width="15.3" height="5.5" rx="2.75" fill="#ececec"/></g>
<text x="616" y="694.1" font-size="12" text-anchor="middle" font-weight="normal" fill="#111">1024</text>
<text x="616" y="717.1" font-size="12" text-anchor="middle" font-weight="normal" fill="#fff">-4</text>
<text x="656.5" y="484" font-size="12" text-anchor="middle" font-weight="normal" fill="#111">16h</text>
<path d="M0,-9.2 L5.4,8.9 L0,4.5 L-5.4,8.9 Z" fill="#0a0a0a" transform="translate(657,502.2) rotate(1)"/>
<text x="656.5" y="564.1" font-size="12" text-anchor="middle" font-weight="normal" fill="#111">5</text>
<text x="656.5" y="594" font-size="12" text-anchor="middle" font-weight="normal" fill="#fff">9</text>
<g transform="translate(636.00,600)"><circle cx="18.2" cy="14" r="5.4" fill="#ffd500" stroke="#fdb913" stroke-width="1"/><line x1="18.20" y1="6.80" x2="18.20" y2="3.30" stroke="#fdb913" stroke-width="2"/><line x1="23.29" y1="8.91" x2="25.77" y2="6.43" stroke="#fdb913" stroke-width="2"/><line x1="13.11" y1="8.91" x2="10.63" y2="6.43" stroke="#fdb913" stroke-width="2"/><line x1="25.40" y1="14.00" x2="28.90" y2="14.00" stroke="#fdb913" stroke-width="2"/><line x1="18.20" y1="21.20" x2="18.20" y2="24.70" stroke="#fdb913" stroke-width="2"/><line x1="13.11" y1="19.09" x2="10.63" y2="21.57" stroke="#fdb913" stroke-width="2"/><circle cx="9.6" cy="13.7" r="3" fill="#8a8a8a"/><rect x="3.3" y="11.8" width="10" height="6.3" rx="3.15" fill="#8a8a8a"/><circle cx="9.6" cy="13.7" r="2" fill="#ffffff"/><rect x="4.3" y="12.8" width="8" height="4.3" rx="2.15" fill="#ffffff"/><circle cx="28" cy="20.7" r="4" fill="#8a8a8a"/><rect x="20.4" y="19.4" width="16.1" height="6.8" rx="3.4" fill="#8a8a8a"/><circle cx="28" cy="20.7" r="3" fill="#ffffff"/><rect x="21.4" y="20.4" width="14.1" height="4.8" rx="2.4" fill="#ffffff"/></g>
<text x="656.5" y="694.1" font-size="12" text-anchor="middle" font-weight="normal" fill="#111">1024</text>
<text x="656.5" y="717.1" font-size="12" text-anchor="middle" font-weight="normal" fill="#fff">-7</text>
<text x="697" y="484" font-size="12" text-anchor="middle" font-weight="normal" fill="#111">19h</text>
<path d="M0,-9.2 L5.4,8.9 L0,4.5 L-5.4,8.9 Z" fill="#0a0a0a" transform="translate(697.5,502.2) rotate(-9)"/>
<text x="697" y="560.1" font-size="12" text-anchor="middle" font-weight="normal" fill="#111">7</text>
<text x="697" y="594" font-size="12" text-anchor="middle" font-weight="normal" fill="#fff">18</text>
<g transform="translate(680.30,600.6)"><path d="M9.7,3.2 A7,7 0 1 1 2.5,12.4 A5.9,5.9 0 0 0 9.7,3.2 Z" fill="#b5e0ef" stroke="#6fbfd8" stroke-width="1" stroke-linejoin="round"/><circle cx="21.5" cy="11.9" r="4.4" fill="#8a8a8a"/><circle cx="26.6" cy="15.7" r="3.9" fill="#8a8a8a"/><circle cx="23.5" cy="15" r="3.8" fill="#8a8a8a"/><circle cx="21.5" cy="11.9" r="3.4" fill="#d2d2d2"/><circle cx="26.6" cy="15.7" r="2.9" fill="#d2d2d2"/><circle cx="23.5" cy="15" r="2.8" fill="#d2d2d2"/><circle cx="11.2" cy="17" r="3.7" fill="#8a8a8a"/><circle cx="15.9" cy="17" r="4.4" fill="#8a8a8a"/><circle cx="21.8" cy="20.4" r="4.6" fill="#8a8a8a"/><rect x="6.9" y="18.7" width="19.1" height="6.7" rx="3.35" fill="#8a8a8a"/><circle cx="11.2" cy="17" r="2.7" fill="#ffffff"/><circle cx="15.9" cy="17" r="3.4" fill="#ffffff"/><circle cx="21.8" cy="20.4" r="3.6" fill="#ffffff"/><rect x="7.9" y="19.7" width="17.1" height="4.7" rx="2.35" fill="#ffffff"/></g>
<text x="697" y="694.1" font-size="12" text-anchor="middle" font-weight="normal" fill="#111">1022</text>
<text x="697" y="717.1" font-size="12" text-anchor="middle" font-weight="normal" fill="#fff">-8</text>
<text x="737" y="484" font-size="12" text-anchor="middle" font-weight="normal" fill="#111">22h</text>
<path d="M0,-9.2 L5.4,8.9 L0,4.5 L-5.4,8.9 Z" fill="#0a0a0a" transform="translate(737.5,502.2) rotate(-15)"/>
<text x="737" y="556.1" font-size="12" text-anchor="middle" font-weight="normal" fill="#111">10</text>
<text x="737" y="594" font-size="12" text-anchor="middle" font-weight="normal" fill="#111">26</text>
<g transform="translate(721.50,602.6)"><circle cx="7.1" cy="14.7" r="4.6" fill="#8a8a8a"/><circle cx="13" cy="9.6" r="6" fill="#8a8a8a"/><circle cx="20.2" cy="10.5" r="4.5" fill="#8a8a8a"/><circle cx="24.5" cy="14.8" r="4.1" fill="#8a8a8a"/><circle cx="11" cy="16" r="4.3" fill="#8a8a8a"/><circle cx="20" cy="16" r="4.3" fill="#8a8a8a"/><circle cx="7.1" cy="14.7" r="3.6" fill="#d2d2d2"/><circle cx="13" cy="9.6" r="5" fill="#d2d2d2"/><circle cx="20.2" cy="10.5" r="3.5" fill="#d2d2d2"/><circle cx="24.5" cy="14.8" r="3.1" fill="#d2d2d2"/><circle cx="11" cy="16" r="3.3" fill="#d2d2d2"/><circle cx="20" cy="16" r="3.3" fill="#d2d2d2"/><circle cx="17.3" cy="15.4" r="4.5" fill="#8a8a8a"/><rect x="8.7" y="14.7" width="17.3" height="7.5" rx="3.75" fill="#8a8a8a"/><circle cx="17.3" cy="15.4" r="3.5" fill="#ececec"/><rect x="9.7" y="15.7" width="15.3" height="5.5" rx="2.75" fill="#ececec"/></g>
<text x="737" y="694.1" font-size="12" text-anchor="middle" font-weight="normal" fill="#111">1021</text>
<text x="737" y="717.1" font-size="12" text-anchor="middle" font-weight="normal" fill="#fff">-7</text>
</svg>
</body></html>
